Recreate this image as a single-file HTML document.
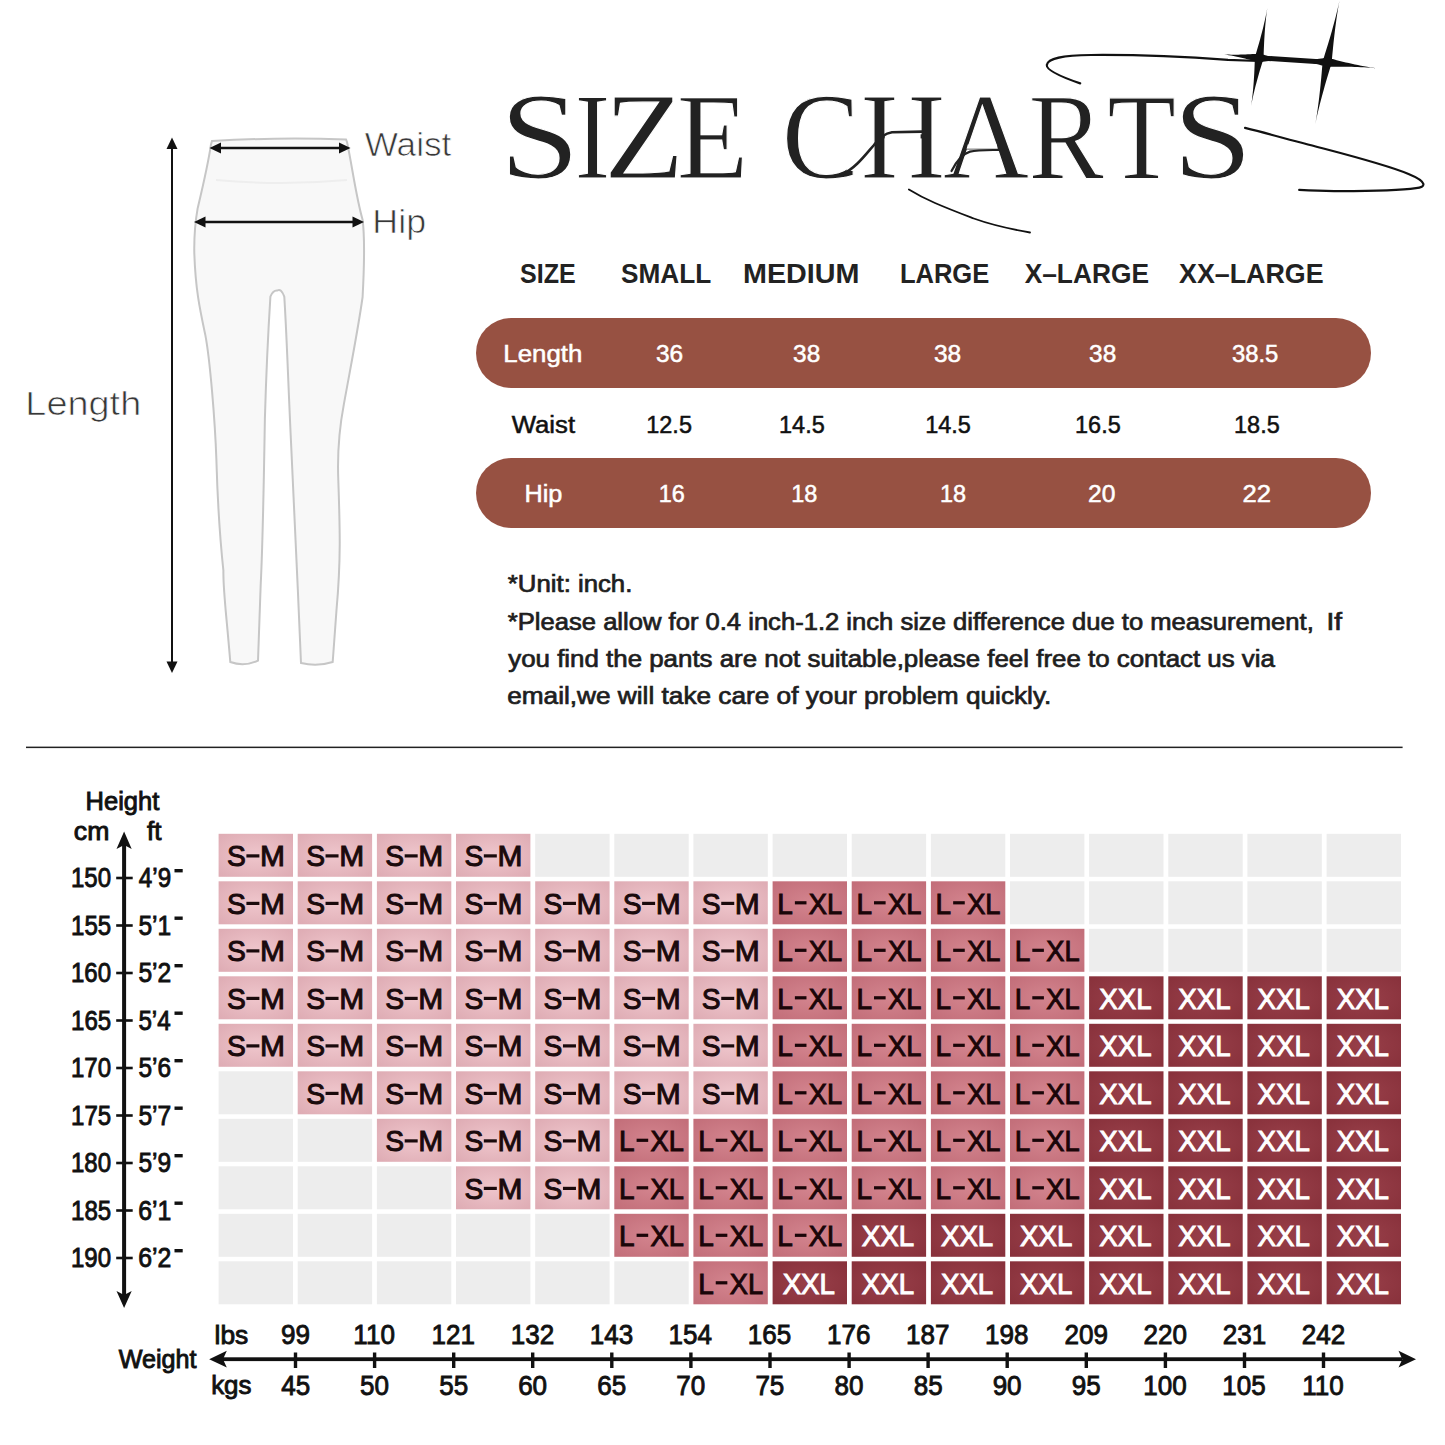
<!DOCTYPE html>
<html><head><meta charset="utf-8">
<style>
*{margin:0;padding:0}
html,body{width:1445px;height:1445px;overflow:hidden;background:#fff}
svg{position:absolute;left:0;top:0;display:block}
text{white-space:pre}
</style></head><body>
<svg width="1445" height="1445" viewBox="0 0 1445 1445">
<defs>
<radialGradient id="gs" cx="50%" cy="50%" r="65%"><stop offset="0" stop-color="#efc6cc"/><stop offset="1" stop-color="#dfadb5"/></radialGradient>
<radialGradient id="gl" cx="50%" cy="50%" r="65%"><stop offset="0" stop-color="#d3848e"/><stop offset="1" stop-color="#c36f7a"/></radialGradient>
<radialGradient id="gx" cx="50%" cy="50%" r="65%"><stop offset="0" stop-color="#983f49"/><stop offset="1" stop-color="#89323c"/></radialGradient>
</defs>
<path d="M212 141 Q280 137 346 139.5 L347 142 C352 165 356 197 362.6 219.7 C364.5 235 364.5 262 362.6 297 C358 330 350 370 343.8 404.6 C339 430 337.5 460 338.3 480 C340 529 341 560 336.5 610 L332.7 662 Q317 667 301 663 C298 590 295 529 291.2 446 C288 380 287 340 284.3 296.6 Q281 288 277.4 290.5 Q273 290 270.4 296.6 C268 335 266 380 264.9 418.4 C264 470 263 540 260.7 584.5 L258 660.7 Q244 667 230.3 662 C226 610 223 590 223.4 570.7 C218 520 217 480 216.4 460 C215 420 210 360 205.4 335.4 C200 310 195.5 290 194.3 252.9 C194 235 194.5 226 197.6 208.6 C202 190 208 165 211 144.4 Z" fill="#f8f8f8" stroke="#c6c6c6" stroke-width="2"/>
<path d="M216 180 Q280 186 347 180" fill="none" stroke="#eeeeee" stroke-width="2"/>
<line x1="218" y1="148" x2="342" y2="148" stroke="#111" stroke-width="2.5"/>
<path d="M209.5 148 L221 142.5 L221 153.5 Z" fill="#111"/>
<path d="M350.5 148 L339 142.5 L339 153.5 Z" fill="#111"/>
<line x1="202" y1="222" x2="356" y2="222" stroke="#111" stroke-width="2.5"/>
<path d="M194 222 L205.5 216.5 L205.5 227.5 Z" fill="#111"/>
<path d="M364 222 L352.5 216.5 L352.5 227.5 Z" fill="#111"/>
<line x1="172" y1="146" x2="172" y2="665" stroke="#111" stroke-width="2"/>
<path d="M172 137.5 L166.5 149 L177.5 149 Z" fill="#111"/>
<path d="M172 673 L166.5 661.5 L177.5 661.5 Z" fill="#111"/>
<text x="364.72" y="155.50" font-family="Liberation Sans" font-weight="normal" font-size="33" textLength="86.56" lengthAdjust="spacingAndGlyphs" fill="#383838" stroke="#fff" stroke-width="0.7">Waist</text>
<text x="372.35" y="232.90" font-family="Liberation Sans" font-weight="normal" font-size="33" textLength="53.70" lengthAdjust="spacingAndGlyphs" fill="#383838" stroke="#fff" stroke-width="0.7">Hip</text>
<text x="25.38" y="414.60" font-family="Liberation Sans" font-weight="normal" font-size="33" textLength="115.84" lengthAdjust="spacingAndGlyphs" fill="#383838" stroke="#fff" stroke-width="0.7">Length</text>
<text x="499.64" y="177.50" font-family="Liberation Serif" font-weight="normal" font-size="122" textLength="80.40" lengthAdjust="spacingAndGlyphs" fill="#222" stroke="#fff" stroke-width="1.1">S</text>
<text x="574.43" y="177.50" font-family="Liberation Serif" font-weight="normal" font-size="122" textLength="35.90" lengthAdjust="spacingAndGlyphs" fill="#222" stroke="#fff" stroke-width="1.1">I</text>
<text x="603.73" y="177.50" font-family="Liberation Serif" font-weight="normal" font-size="122" textLength="80.65" lengthAdjust="spacingAndGlyphs" fill="#222" stroke="#fff" stroke-width="1.1">Z</text>
<text x="676.78" y="177.50" font-family="Liberation Serif" font-weight="normal" font-size="122" textLength="71.58" lengthAdjust="spacingAndGlyphs" fill="#222" stroke="#fff" stroke-width="1.1">E</text>
<text x="781.81" y="177.50" font-family="Liberation Serif" font-weight="normal" font-size="122" textLength="78.17" lengthAdjust="spacingAndGlyphs" fill="#222" stroke="#fff" stroke-width="1.1">C</text>
<text x="860.78" y="177.50" font-family="Liberation Serif" font-weight="normal" font-size="122" textLength="84.49" lengthAdjust="spacingAndGlyphs" fill="#222" stroke="#fff" stroke-width="1.1">H</text>
<text x="943.01" y="177.50" font-family="Liberation Serif" font-weight="normal" font-size="122" textLength="86.05" lengthAdjust="spacingAndGlyphs" fill="#222" stroke="#fff" stroke-width="1.1">A</text>
<text x="1028.49" y="177.50" font-family="Liberation Serif" font-weight="normal" font-size="122" textLength="75.33" lengthAdjust="spacingAndGlyphs" fill="#222" stroke="#fff" stroke-width="1.1">R</text>
<text x="1107.33" y="177.50" font-family="Liberation Serif" font-weight="normal" font-size="122" textLength="68.75" lengthAdjust="spacingAndGlyphs" fill="#222" stroke="#fff" stroke-width="1.1">T</text>
<text x="1172.56" y="177.50" font-family="Liberation Serif" font-weight="normal" font-size="122" textLength="80.27" lengthAdjust="spacingAndGlyphs" fill="#222" stroke="#fff" stroke-width="1.1">S</text>
<rect x="884.8" y="133.3" width="35.8" height="6" fill="#fff"/>
<path d="M848.5 153 L856 153 L856 171 L846.5 171 Z" fill="#fff"/>
<path d="M967.8 144.5 L996.8 144.5 L997.8 148.8 L966.6 148.8 Z" fill="#fff"/>
<path d="M842 174.5 C856 168 866 154 874 145 C879 138 884 133.5 892 132.3 L922 131.6" fill="none" stroke="#222" stroke-width="2.6" stroke-linecap="round"/>
<path d="M951.5 171 C956 162 962 154 970 151.6 C978 149.6 990 150 999 150" fill="none" stroke="#222" stroke-width="2.2" stroke-linecap="round"/>
<path d="M1080.2 83.4 C1066 78.5 1046 71 1046.8 65 C1048 58 1062 55.5 1091 55 C1140 54.6 1190 57 1228 59.8 L1259 61" fill="none" stroke="#111" stroke-width="2.2" stroke-linecap="round"/>
<path d="M1245 127.9 C1270 134 1290 140 1304.4 143.5 C1340 153 1385 164 1408.5 174 C1428 182 1426 187.5 1416 188.1 C1400 190.5 1370 191.2 1334 191.1 C1320 191 1310 190.5 1299.2 189.9" fill="none" stroke="#111" stroke-width="2.2" stroke-linecap="round"/>
<path d="M908.9 189.4 C918 195 926 199 935 203 C950 209.5 962 214 973.8 218.5 C992 225 1010 229 1030 232.5" fill="none" stroke="#111" stroke-width="1.8" stroke-linecap="round"/>
<path d="M1259.2 57.9 L1327.1 62.3" stroke="#111" stroke-width="5"/>
<path d="M1263.54 58.61 L1263.62 55.42 L1263.72 52.25 L1263.83 49.07 L1263.97 45.90 L1264.12 42.73 L1264.28 39.56 L1264.47 36.39 L1264.68 33.23 L1264.91 30.08 L1265.17 26.92 L1265.44 23.77 L1265.75 20.63 L1266.08 17.49 L1266.44 14.35 L1266.85 11.22 L1267.30 8.10 L1267.30 8.10 L1266.74 11.20 L1266.13 14.30 L1265.48 17.39 L1264.80 20.47 L1264.09 23.55 L1263.36 26.63 L1262.60 29.70 L1261.82 32.77 L1261.01 35.83 L1260.19 38.89 L1259.35 41.95 L1258.48 45.00 L1257.60 48.06 L1256.71 51.10 L1255.79 54.15 L1254.86 57.19 ZM1254.86 57.17 L1254.78 60.24 L1254.68 63.31 L1254.57 66.37 L1254.44 69.44 L1254.29 72.50 L1254.12 75.55 L1253.93 78.61 L1253.72 81.66 L1253.49 84.70 L1253.23 87.75 L1252.96 90.79 L1252.65 93.82 L1252.32 96.85 L1251.96 99.87 L1251.55 102.89 L1251.10 105.90 L1251.10 105.90 L1251.66 102.91 L1252.27 99.93 L1252.92 96.95 L1253.60 93.98 L1254.31 91.01 L1255.04 88.05 L1255.80 85.10 L1256.58 82.14 L1257.38 79.19 L1258.21 76.25 L1259.05 73.30 L1259.91 70.36 L1260.79 67.43 L1261.69 64.49 L1262.61 61.56 L1263.54 58.63 ZM1259.63 53.52 L1257.25 53.72 L1254.87 53.90 L1252.50 54.07 L1250.12 54.21 L1247.75 54.34 L1245.38 54.45 L1243.01 54.54 L1240.64 54.61 L1238.28 54.65 L1235.92 54.68 L1233.55 54.68 L1231.20 54.65 L1228.84 54.59 L1226.49 54.51 L1224.14 54.38 L1221.80 54.20 L1221.80 54.20 L1224.13 54.48 L1226.46 54.82 L1228.78 55.19 L1231.10 55.60 L1233.42 56.04 L1235.73 56.50 L1238.05 56.99 L1240.36 57.49 L1242.66 58.03 L1244.97 58.58 L1247.27 59.15 L1249.58 59.74 L1251.88 60.35 L1254.18 60.97 L1256.47 61.62 L1258.77 62.28 ZM1258.90 62.29 L1260.86 61.99 L1262.81 61.71 L1264.76 61.44 L1266.71 61.20 L1268.66 60.97 L1270.61 60.76 L1272.56 60.57 L1274.50 60.40 L1276.45 60.25 L1278.39 60.13 L1280.33 60.03 L1282.27 59.95 L1284.20 59.91 L1286.14 59.90 L1288.07 59.92 L1290.00 60.00 L1290.00 60.00 L1288.08 59.82 L1286.16 59.58 L1284.25 59.30 L1282.33 59.00 L1280.42 58.66 L1278.51 58.30 L1276.60 57.91 L1274.70 57.50 L1272.79 57.07 L1270.89 56.62 L1268.99 56.15 L1267.09 55.65 L1265.19 55.14 L1263.29 54.62 L1261.39 54.07 L1259.50 53.51 Z" fill="#111"/><circle cx="1259.2" cy="57.9" r="5.2" fill="#111"/>
<path d="M1331.61 63.21 L1331.94 59.26 L1332.29 55.32 L1332.66 51.38 L1333.05 47.45 L1333.45 43.52 L1333.88 39.59 L1334.32 35.67 L1334.79 31.75 L1335.28 27.84 L1335.79 23.93 L1336.33 20.02 L1336.89 16.12 L1337.48 12.23 L1338.11 8.35 L1338.78 4.47 L1339.50 0.60 L1339.50 0.60 L1338.67 4.45 L1337.79 8.28 L1336.87 12.11 L1335.91 15.93 L1334.92 19.74 L1333.91 23.55 L1332.87 27.35 L1331.81 31.15 L1330.73 34.95 L1329.62 38.74 L1328.50 42.52 L1327.35 46.30 L1326.19 50.08 L1325.01 53.86 L1323.81 57.63 L1322.59 61.39 ZM1322.58 61.44 L1322.29 65.38 L1321.98 69.31 L1321.65 73.25 L1321.30 77.18 L1320.93 81.11 L1320.55 85.03 L1320.14 88.95 L1319.71 92.86 L1319.26 96.78 L1318.78 100.68 L1318.28 104.58 L1317.76 108.48 L1317.20 112.37 L1316.61 116.26 L1315.98 120.13 L1315.30 124.00 L1315.30 124.00 L1316.09 120.15 L1316.94 116.32 L1317.82 112.49 L1318.74 108.67 L1319.69 104.85 L1320.67 101.04 L1321.67 97.24 L1322.69 93.44 L1323.74 89.64 L1324.80 85.84 L1325.89 82.06 L1327.00 78.27 L1328.13 74.49 L1329.27 70.71 L1330.44 66.94 L1331.62 63.16 ZM1326.54 66.87 L1329.67 66.79 L1332.80 66.74 L1335.93 66.70 L1339.05 66.68 L1342.17 66.68 L1345.29 66.70 L1348.40 66.74 L1351.52 66.81 L1354.63 66.89 L1357.73 67.00 L1360.84 67.14 L1363.94 67.30 L1367.04 67.49 L1370.13 67.71 L1373.22 67.98 L1376.30 68.30 L1376.30 68.30 L1373.23 67.87 L1370.17 67.39 L1367.11 66.86 L1364.06 66.30 L1361.01 65.71 L1357.97 65.10 L1354.92 64.46 L1351.88 63.79 L1348.85 63.11 L1345.81 62.40 L1342.78 61.67 L1339.75 60.92 L1336.72 60.15 L1333.70 59.36 L1330.68 58.56 L1327.66 57.73 ZM1327.43 57.71 L1325.39 58.02 L1323.35 58.31 L1321.32 58.58 L1319.28 58.83 L1317.25 59.06 L1315.22 59.27 L1313.19 59.47 L1311.16 59.64 L1309.13 59.78 L1307.11 59.91 L1305.08 60.01 L1303.06 60.08 L1301.04 60.12 L1299.02 60.12 L1297.01 60.09 L1295.00 60.00 L1295.00 60.00 L1297.00 60.20 L1299.00 60.45 L1301.00 60.75 L1302.99 61.07 L1304.98 61.43 L1306.97 61.82 L1308.96 62.23 L1310.94 62.66 L1312.93 63.12 L1314.91 63.60 L1316.89 64.10 L1318.87 64.62 L1320.85 65.16 L1322.82 65.72 L1324.80 66.29 L1326.77 66.89 Z" fill="#111"/><circle cx="1327.1" cy="62.3" r="5.4" fill="#111"/>
<text x="520.05" y="283.20" font-family="Liberation Sans" font-weight="bold" font-size="28" textLength="55.66" lengthAdjust="spacingAndGlyphs" fill="#222" >SIZE</text>
<text x="621.01" y="283.20" font-family="Liberation Sans" font-weight="bold" font-size="28" textLength="90.21" lengthAdjust="spacingAndGlyphs" fill="#222" >SMALL</text>
<text x="743.06" y="283.20" font-family="Liberation Sans" font-weight="bold" font-size="28" textLength="116.41" lengthAdjust="spacingAndGlyphs" fill="#222" >MEDIUM</text>
<text x="899.88" y="283.20" font-family="Liberation Sans" font-weight="bold" font-size="28" textLength="89.35" lengthAdjust="spacingAndGlyphs" fill="#222" >LARGE</text>
<text x="1024.64" y="283.20" font-family="Liberation Sans" font-weight="bold" font-size="28" textLength="124.37" lengthAdjust="spacingAndGlyphs" fill="#222" >X–LARGE</text>
<text x="1179.03" y="283.20" font-family="Liberation Sans" font-weight="bold" font-size="28" textLength="144.55" lengthAdjust="spacingAndGlyphs" fill="#222" >XX–LARGE</text>
<rect x="476" y="318" width="895" height="70" rx="35" fill="#975142"/>
<rect x="476" y="458" width="895" height="70" rx="35" fill="#975142"/>
<text x="503.27" y="362.00" font-family="Liberation Sans" font-weight="normal" font-size="23" textLength="79.08" lengthAdjust="spacingAndGlyphs" fill="#fff" stroke="#fff" stroke-width="0.5">Length</text>
<text x="655.98" y="362.00" font-family="Liberation Sans" font-weight="normal" font-size="23" textLength="27.21" lengthAdjust="spacingAndGlyphs" fill="#fff" stroke="#fff" stroke-width="0.5">36</text>
<text x="793.09" y="362.00" font-family="Liberation Sans" font-weight="normal" font-size="23" textLength="27.11" lengthAdjust="spacingAndGlyphs" fill="#fff" stroke="#fff" stroke-width="0.5">38</text>
<text x="933.98" y="362.00" font-family="Liberation Sans" font-weight="normal" font-size="23" textLength="27.21" lengthAdjust="spacingAndGlyphs" fill="#fff" stroke="#fff" stroke-width="0.5">38</text>
<text x="1089.09" y="362.00" font-family="Liberation Sans" font-weight="normal" font-size="23" textLength="27.11" lengthAdjust="spacingAndGlyphs" fill="#fff" stroke="#fff" stroke-width="0.5">38</text>
<text x="1231.91" y="362.00" font-family="Liberation Sans" font-weight="normal" font-size="23" textLength="46.38" lengthAdjust="spacingAndGlyphs" fill="#fff" stroke="#fff" stroke-width="0.5">38.5</text>
<text x="511.67" y="432.50" font-family="Liberation Sans" font-weight="normal" font-size="23" textLength="63.43" lengthAdjust="spacingAndGlyphs" fill="#111" stroke="#111" stroke-width="0.5">Waist</text>
<text x="646.27" y="432.50" font-family="Liberation Sans" font-weight="normal" font-size="23" textLength="45.66" lengthAdjust="spacingAndGlyphs" fill="#111" stroke="#111" stroke-width="0.5">12.5</text>
<text x="779.07" y="432.50" font-family="Liberation Sans" font-weight="normal" font-size="23" textLength="45.66" lengthAdjust="spacingAndGlyphs" fill="#111" stroke="#111" stroke-width="0.5">14.5</text>
<text x="925.22" y="432.50" font-family="Liberation Sans" font-weight="normal" font-size="23" textLength="45.66" lengthAdjust="spacingAndGlyphs" fill="#111" stroke="#111" stroke-width="0.5">14.5</text>
<text x="1075.07" y="432.50" font-family="Liberation Sans" font-weight="normal" font-size="23" textLength="45.66" lengthAdjust="spacingAndGlyphs" fill="#111" stroke="#111" stroke-width="0.5">16.5</text>
<text x="1234.07" y="432.50" font-family="Liberation Sans" font-weight="normal" font-size="23" textLength="45.66" lengthAdjust="spacingAndGlyphs" fill="#111" stroke="#111" stroke-width="0.5">18.5</text>
<text x="524.52" y="502.10" font-family="Liberation Sans" font-weight="normal" font-size="23" textLength="37.91" lengthAdjust="spacingAndGlyphs" fill="#fff" stroke="#fff" stroke-width="0.5">Hip</text>
<text x="658.70" y="502.10" font-family="Liberation Sans" font-weight="normal" font-size="23" textLength="26.10" lengthAdjust="spacingAndGlyphs" fill="#fff" stroke="#fff" stroke-width="0.5">16</text>
<text x="791.25" y="502.10" font-family="Liberation Sans" font-weight="normal" font-size="23" textLength="26.10" lengthAdjust="spacingAndGlyphs" fill="#fff" stroke="#fff" stroke-width="0.5">18</text>
<text x="939.90" y="502.10" font-family="Liberation Sans" font-weight="normal" font-size="23" textLength="26.10" lengthAdjust="spacingAndGlyphs" fill="#fff" stroke="#fff" stroke-width="0.5">18</text>
<text x="1088.07" y="502.10" font-family="Liberation Sans" font-weight="normal" font-size="23" textLength="27.41" lengthAdjust="spacingAndGlyphs" fill="#fff" stroke="#fff" stroke-width="0.5">20</text>
<text x="1242.52" y="502.10" font-family="Liberation Sans" font-weight="normal" font-size="23" textLength="28.52" lengthAdjust="spacingAndGlyphs" fill="#fff" stroke="#fff" stroke-width="0.5">22</text>
<text x="507.85" y="591.80" font-family="Liberation Sans" font-weight="normal" font-size="23" textLength="124.48" lengthAdjust="spacingAndGlyphs" fill="#1e1e1e" stroke="#1e1e1e" stroke-width="0.7">*Unit: inch.</text>
<text x="507.85" y="629.80" font-family="Liberation Sans" font-weight="normal" font-size="23" textLength="805.95" lengthAdjust="spacingAndGlyphs" fill="#1e1e1e" stroke="#1e1e1e" stroke-width="0.7">*Please allow for 0.4 inch-1.2 inch size difference due to measurement,</text>
<text x="1326.41" y="629.80" font-family="Liberation Sans" font-weight="normal" font-size="23" textLength="15.54" lengthAdjust="spacingAndGlyphs" fill="#1e1e1e" stroke="#1e1e1e" stroke-width="0.7">If</text>
<text x="508.24" y="666.80" font-family="Liberation Sans" font-weight="normal" font-size="23" textLength="766.73" lengthAdjust="spacingAndGlyphs" fill="#1e1e1e" stroke="#1e1e1e" stroke-width="0.7">you find the pants are not suitable,please feel free to contact us via</text>
<text x="507.19" y="703.60" font-family="Liberation Sans" font-weight="normal" font-size="23" textLength="544.18" lengthAdjust="spacingAndGlyphs" fill="#1e1e1e" stroke="#1e1e1e" stroke-width="0.7">email,we will take care of your problem quickly.</text>
<rect x="26" y="746.6" width="1376.6" height="1.5" fill="#222"/>
<rect x="218.6" y="833.8" width="74.4" height="43" fill="url(#gs)"/>
<text x="227.03" y="866.00" font-family="Liberation Sans" font-weight="normal" font-size="29.5" textLength="18.83" lengthAdjust="spacingAndGlyphs" fill="#1a0a0c" stroke="#1a0a0c" stroke-width="1.0">S</text>
<rect x="246.40" y="854.30" width="13" height="3.2" fill="#1a0a0c"/>
<text x="260.03" y="866.00" font-family="Liberation Sans" font-weight="normal" font-size="29.5" textLength="24.96" lengthAdjust="spacingAndGlyphs" fill="#1a0a0c" stroke="#1a0a0c" stroke-width="1.0">M</text>
<rect x="297.7" y="833.8" width="74.4" height="43" fill="url(#gs)"/>
<text x="306.17" y="866.00" font-family="Liberation Sans" font-weight="normal" font-size="29.5" textLength="18.83" lengthAdjust="spacingAndGlyphs" fill="#1a0a0c" stroke="#1a0a0c" stroke-width="1.0">S</text>
<rect x="325.54" y="854.30" width="13" height="3.2" fill="#1a0a0c"/>
<text x="339.17" y="866.00" font-family="Liberation Sans" font-weight="normal" font-size="29.5" textLength="24.96" lengthAdjust="spacingAndGlyphs" fill="#1a0a0c" stroke="#1a0a0c" stroke-width="1.0">M</text>
<rect x="376.9" y="833.8" width="74.4" height="43" fill="url(#gs)"/>
<text x="385.31" y="866.00" font-family="Liberation Sans" font-weight="normal" font-size="29.5" textLength="18.83" lengthAdjust="spacingAndGlyphs" fill="#1a0a0c" stroke="#1a0a0c" stroke-width="1.0">S</text>
<rect x="404.68" y="854.30" width="13" height="3.2" fill="#1a0a0c"/>
<text x="418.31" y="866.00" font-family="Liberation Sans" font-weight="normal" font-size="29.5" textLength="24.96" lengthAdjust="spacingAndGlyphs" fill="#1a0a0c" stroke="#1a0a0c" stroke-width="1.0">M</text>
<rect x="456.0" y="833.8" width="74.4" height="43" fill="url(#gs)"/>
<text x="464.45" y="866.00" font-family="Liberation Sans" font-weight="normal" font-size="29.5" textLength="18.83" lengthAdjust="spacingAndGlyphs" fill="#1a0a0c" stroke="#1a0a0c" stroke-width="1.0">S</text>
<rect x="483.82" y="854.30" width="13" height="3.2" fill="#1a0a0c"/>
<text x="497.45" y="866.00" font-family="Liberation Sans" font-weight="normal" font-size="29.5" textLength="24.96" lengthAdjust="spacingAndGlyphs" fill="#1a0a0c" stroke="#1a0a0c" stroke-width="1.0">M</text>
<rect x="535.2" y="833.8" width="74.4" height="43" fill="#ededed"/>
<rect x="614.3" y="833.8" width="74.4" height="43" fill="#ededed"/>
<rect x="693.4" y="833.8" width="74.4" height="43" fill="#ededed"/>
<rect x="772.6" y="833.8" width="74.4" height="43" fill="#ededed"/>
<rect x="851.7" y="833.8" width="74.4" height="43" fill="#ededed"/>
<rect x="930.9" y="833.8" width="74.4" height="43" fill="#ededed"/>
<rect x="1010.0" y="833.8" width="74.4" height="43" fill="#ededed"/>
<rect x="1089.1" y="833.8" width="74.4" height="43" fill="#ededed"/>
<rect x="1168.3" y="833.8" width="74.4" height="43" fill="#ededed"/>
<rect x="1247.4" y="833.8" width="74.4" height="43" fill="#ededed"/>
<rect x="1326.6" y="833.8" width="74.4" height="43" fill="#ededed"/>
<rect x="218.6" y="881.3" width="74.4" height="43" fill="url(#gs)"/>
<text x="227.03" y="913.50" font-family="Liberation Sans" font-weight="normal" font-size="29.5" textLength="18.83" lengthAdjust="spacingAndGlyphs" fill="#1a0a0c" stroke="#1a0a0c" stroke-width="1.0">S</text>
<rect x="246.40" y="901.80" width="13" height="3.2" fill="#1a0a0c"/>
<text x="260.03" y="913.50" font-family="Liberation Sans" font-weight="normal" font-size="29.5" textLength="24.96" lengthAdjust="spacingAndGlyphs" fill="#1a0a0c" stroke="#1a0a0c" stroke-width="1.0">M</text>
<rect x="297.7" y="881.3" width="74.4" height="43" fill="url(#gs)"/>
<text x="306.17" y="913.50" font-family="Liberation Sans" font-weight="normal" font-size="29.5" textLength="18.83" lengthAdjust="spacingAndGlyphs" fill="#1a0a0c" stroke="#1a0a0c" stroke-width="1.0">S</text>
<rect x="325.54" y="901.80" width="13" height="3.2" fill="#1a0a0c"/>
<text x="339.17" y="913.50" font-family="Liberation Sans" font-weight="normal" font-size="29.5" textLength="24.96" lengthAdjust="spacingAndGlyphs" fill="#1a0a0c" stroke="#1a0a0c" stroke-width="1.0">M</text>
<rect x="376.9" y="881.3" width="74.4" height="43" fill="url(#gs)"/>
<text x="385.31" y="913.50" font-family="Liberation Sans" font-weight="normal" font-size="29.5" textLength="18.83" lengthAdjust="spacingAndGlyphs" fill="#1a0a0c" stroke="#1a0a0c" stroke-width="1.0">S</text>
<rect x="404.68" y="901.80" width="13" height="3.2" fill="#1a0a0c"/>
<text x="418.31" y="913.50" font-family="Liberation Sans" font-weight="normal" font-size="29.5" textLength="24.96" lengthAdjust="spacingAndGlyphs" fill="#1a0a0c" stroke="#1a0a0c" stroke-width="1.0">M</text>
<rect x="456.0" y="881.3" width="74.4" height="43" fill="url(#gs)"/>
<text x="464.45" y="913.50" font-family="Liberation Sans" font-weight="normal" font-size="29.5" textLength="18.83" lengthAdjust="spacingAndGlyphs" fill="#1a0a0c" stroke="#1a0a0c" stroke-width="1.0">S</text>
<rect x="483.82" y="901.80" width="13" height="3.2" fill="#1a0a0c"/>
<text x="497.45" y="913.50" font-family="Liberation Sans" font-weight="normal" font-size="29.5" textLength="24.96" lengthAdjust="spacingAndGlyphs" fill="#1a0a0c" stroke="#1a0a0c" stroke-width="1.0">M</text>
<rect x="535.2" y="881.3" width="74.4" height="43" fill="url(#gs)"/>
<text x="543.59" y="913.50" font-family="Liberation Sans" font-weight="normal" font-size="29.5" textLength="18.83" lengthAdjust="spacingAndGlyphs" fill="#1a0a0c" stroke="#1a0a0c" stroke-width="1.0">S</text>
<rect x="562.96" y="901.80" width="13" height="3.2" fill="#1a0a0c"/>
<text x="576.59" y="913.50" font-family="Liberation Sans" font-weight="normal" font-size="29.5" textLength="24.96" lengthAdjust="spacingAndGlyphs" fill="#1a0a0c" stroke="#1a0a0c" stroke-width="1.0">M</text>
<rect x="614.3" y="881.3" width="74.4" height="43" fill="url(#gs)"/>
<text x="622.73" y="913.50" font-family="Liberation Sans" font-weight="normal" font-size="29.5" textLength="18.83" lengthAdjust="spacingAndGlyphs" fill="#1a0a0c" stroke="#1a0a0c" stroke-width="1.0">S</text>
<rect x="642.10" y="901.80" width="13" height="3.2" fill="#1a0a0c"/>
<text x="655.73" y="913.50" font-family="Liberation Sans" font-weight="normal" font-size="29.5" textLength="24.96" lengthAdjust="spacingAndGlyphs" fill="#1a0a0c" stroke="#1a0a0c" stroke-width="1.0">M</text>
<rect x="693.4" y="881.3" width="74.4" height="43" fill="url(#gs)"/>
<text x="701.87" y="913.50" font-family="Liberation Sans" font-weight="normal" font-size="29.5" textLength="18.83" lengthAdjust="spacingAndGlyphs" fill="#1a0a0c" stroke="#1a0a0c" stroke-width="1.0">S</text>
<rect x="721.24" y="901.80" width="13" height="3.2" fill="#1a0a0c"/>
<text x="734.87" y="913.50" font-family="Liberation Sans" font-weight="normal" font-size="29.5" textLength="24.96" lengthAdjust="spacingAndGlyphs" fill="#1a0a0c" stroke="#1a0a0c" stroke-width="1.0">M</text>
<rect x="772.6" y="881.3" width="74.4" height="43" fill="url(#gl)"/>
<text x="777.27" y="913.50" font-family="Liberation Sans" font-weight="normal" font-size="29.5" textLength="15.55" lengthAdjust="spacingAndGlyphs" fill="#1a0508" stroke="#1a0508" stroke-width="1.0">L</text>
<rect x="794.88" y="901.20" width="11.6" height="3.2" fill="#1a0508"/>
<text x="808.87" y="913.50" font-family="Liberation Sans" font-weight="normal" font-size="29.5" textLength="33.32" lengthAdjust="spacingAndGlyphs" fill="#1a0508" stroke="#1a0508" stroke-width="1.0">XL</text>
<rect x="851.7" y="881.3" width="74.4" height="43" fill="url(#gl)"/>
<text x="856.41" y="913.50" font-family="Liberation Sans" font-weight="normal" font-size="29.5" textLength="15.55" lengthAdjust="spacingAndGlyphs" fill="#1a0508" stroke="#1a0508" stroke-width="1.0">L</text>
<rect x="874.02" y="901.20" width="11.6" height="3.2" fill="#1a0508"/>
<text x="888.01" y="913.50" font-family="Liberation Sans" font-weight="normal" font-size="29.5" textLength="33.32" lengthAdjust="spacingAndGlyphs" fill="#1a0508" stroke="#1a0508" stroke-width="1.0">XL</text>
<rect x="930.9" y="881.3" width="74.4" height="43" fill="url(#gl)"/>
<text x="935.55" y="913.50" font-family="Liberation Sans" font-weight="normal" font-size="29.5" textLength="15.55" lengthAdjust="spacingAndGlyphs" fill="#1a0508" stroke="#1a0508" stroke-width="1.0">L</text>
<rect x="953.16" y="901.20" width="11.6" height="3.2" fill="#1a0508"/>
<text x="967.15" y="913.50" font-family="Liberation Sans" font-weight="normal" font-size="29.5" textLength="33.32" lengthAdjust="spacingAndGlyphs" fill="#1a0508" stroke="#1a0508" stroke-width="1.0">XL</text>
<rect x="1010.0" y="881.3" width="74.4" height="43" fill="#ededed"/>
<rect x="1089.1" y="881.3" width="74.4" height="43" fill="#ededed"/>
<rect x="1168.3" y="881.3" width="74.4" height="43" fill="#ededed"/>
<rect x="1247.4" y="881.3" width="74.4" height="43" fill="#ededed"/>
<rect x="1326.6" y="881.3" width="74.4" height="43" fill="#ededed"/>
<rect x="218.6" y="928.8" width="74.4" height="43" fill="url(#gs)"/>
<text x="227.03" y="961.00" font-family="Liberation Sans" font-weight="normal" font-size="29.5" textLength="18.83" lengthAdjust="spacingAndGlyphs" fill="#1a0a0c" stroke="#1a0a0c" stroke-width="1.0">S</text>
<rect x="246.40" y="949.30" width="13" height="3.2" fill="#1a0a0c"/>
<text x="260.03" y="961.00" font-family="Liberation Sans" font-weight="normal" font-size="29.5" textLength="24.96" lengthAdjust="spacingAndGlyphs" fill="#1a0a0c" stroke="#1a0a0c" stroke-width="1.0">M</text>
<rect x="297.7" y="928.8" width="74.4" height="43" fill="url(#gs)"/>
<text x="306.17" y="961.00" font-family="Liberation Sans" font-weight="normal" font-size="29.5" textLength="18.83" lengthAdjust="spacingAndGlyphs" fill="#1a0a0c" stroke="#1a0a0c" stroke-width="1.0">S</text>
<rect x="325.54" y="949.30" width="13" height="3.2" fill="#1a0a0c"/>
<text x="339.17" y="961.00" font-family="Liberation Sans" font-weight="normal" font-size="29.5" textLength="24.96" lengthAdjust="spacingAndGlyphs" fill="#1a0a0c" stroke="#1a0a0c" stroke-width="1.0">M</text>
<rect x="376.9" y="928.8" width="74.4" height="43" fill="url(#gs)"/>
<text x="385.31" y="961.00" font-family="Liberation Sans" font-weight="normal" font-size="29.5" textLength="18.83" lengthAdjust="spacingAndGlyphs" fill="#1a0a0c" stroke="#1a0a0c" stroke-width="1.0">S</text>
<rect x="404.68" y="949.30" width="13" height="3.2" fill="#1a0a0c"/>
<text x="418.31" y="961.00" font-family="Liberation Sans" font-weight="normal" font-size="29.5" textLength="24.96" lengthAdjust="spacingAndGlyphs" fill="#1a0a0c" stroke="#1a0a0c" stroke-width="1.0">M</text>
<rect x="456.0" y="928.8" width="74.4" height="43" fill="url(#gs)"/>
<text x="464.45" y="961.00" font-family="Liberation Sans" font-weight="normal" font-size="29.5" textLength="18.83" lengthAdjust="spacingAndGlyphs" fill="#1a0a0c" stroke="#1a0a0c" stroke-width="1.0">S</text>
<rect x="483.82" y="949.30" width="13" height="3.2" fill="#1a0a0c"/>
<text x="497.45" y="961.00" font-family="Liberation Sans" font-weight="normal" font-size="29.5" textLength="24.96" lengthAdjust="spacingAndGlyphs" fill="#1a0a0c" stroke="#1a0a0c" stroke-width="1.0">M</text>
<rect x="535.2" y="928.8" width="74.4" height="43" fill="url(#gs)"/>
<text x="543.59" y="961.00" font-family="Liberation Sans" font-weight="normal" font-size="29.5" textLength="18.83" lengthAdjust="spacingAndGlyphs" fill="#1a0a0c" stroke="#1a0a0c" stroke-width="1.0">S</text>
<rect x="562.96" y="949.30" width="13" height="3.2" fill="#1a0a0c"/>
<text x="576.59" y="961.00" font-family="Liberation Sans" font-weight="normal" font-size="29.5" textLength="24.96" lengthAdjust="spacingAndGlyphs" fill="#1a0a0c" stroke="#1a0a0c" stroke-width="1.0">M</text>
<rect x="614.3" y="928.8" width="74.4" height="43" fill="url(#gs)"/>
<text x="622.73" y="961.00" font-family="Liberation Sans" font-weight="normal" font-size="29.5" textLength="18.83" lengthAdjust="spacingAndGlyphs" fill="#1a0a0c" stroke="#1a0a0c" stroke-width="1.0">S</text>
<rect x="642.10" y="949.30" width="13" height="3.2" fill="#1a0a0c"/>
<text x="655.73" y="961.00" font-family="Liberation Sans" font-weight="normal" font-size="29.5" textLength="24.96" lengthAdjust="spacingAndGlyphs" fill="#1a0a0c" stroke="#1a0a0c" stroke-width="1.0">M</text>
<rect x="693.4" y="928.8" width="74.4" height="43" fill="url(#gs)"/>
<text x="701.87" y="961.00" font-family="Liberation Sans" font-weight="normal" font-size="29.5" textLength="18.83" lengthAdjust="spacingAndGlyphs" fill="#1a0a0c" stroke="#1a0a0c" stroke-width="1.0">S</text>
<rect x="721.24" y="949.30" width="13" height="3.2" fill="#1a0a0c"/>
<text x="734.87" y="961.00" font-family="Liberation Sans" font-weight="normal" font-size="29.5" textLength="24.96" lengthAdjust="spacingAndGlyphs" fill="#1a0a0c" stroke="#1a0a0c" stroke-width="1.0">M</text>
<rect x="772.6" y="928.8" width="74.4" height="43" fill="url(#gl)"/>
<text x="777.27" y="961.00" font-family="Liberation Sans" font-weight="normal" font-size="29.5" textLength="15.55" lengthAdjust="spacingAndGlyphs" fill="#1a0508" stroke="#1a0508" stroke-width="1.0">L</text>
<rect x="794.88" y="948.70" width="11.6" height="3.2" fill="#1a0508"/>
<text x="808.87" y="961.00" font-family="Liberation Sans" font-weight="normal" font-size="29.5" textLength="33.32" lengthAdjust="spacingAndGlyphs" fill="#1a0508" stroke="#1a0508" stroke-width="1.0">XL</text>
<rect x="851.7" y="928.8" width="74.4" height="43" fill="url(#gl)"/>
<text x="856.41" y="961.00" font-family="Liberation Sans" font-weight="normal" font-size="29.5" textLength="15.55" lengthAdjust="spacingAndGlyphs" fill="#1a0508" stroke="#1a0508" stroke-width="1.0">L</text>
<rect x="874.02" y="948.70" width="11.6" height="3.2" fill="#1a0508"/>
<text x="888.01" y="961.00" font-family="Liberation Sans" font-weight="normal" font-size="29.5" textLength="33.32" lengthAdjust="spacingAndGlyphs" fill="#1a0508" stroke="#1a0508" stroke-width="1.0">XL</text>
<rect x="930.9" y="928.8" width="74.4" height="43" fill="url(#gl)"/>
<text x="935.55" y="961.00" font-family="Liberation Sans" font-weight="normal" font-size="29.5" textLength="15.55" lengthAdjust="spacingAndGlyphs" fill="#1a0508" stroke="#1a0508" stroke-width="1.0">L</text>
<rect x="953.16" y="948.70" width="11.6" height="3.2" fill="#1a0508"/>
<text x="967.15" y="961.00" font-family="Liberation Sans" font-weight="normal" font-size="29.5" textLength="33.32" lengthAdjust="spacingAndGlyphs" fill="#1a0508" stroke="#1a0508" stroke-width="1.0">XL</text>
<rect x="1010.0" y="928.8" width="74.4" height="43" fill="url(#gl)"/>
<text x="1014.69" y="961.00" font-family="Liberation Sans" font-weight="normal" font-size="29.5" textLength="15.55" lengthAdjust="spacingAndGlyphs" fill="#1a0508" stroke="#1a0508" stroke-width="1.0">L</text>
<rect x="1032.30" y="948.70" width="11.6" height="3.2" fill="#1a0508"/>
<text x="1046.29" y="961.00" font-family="Liberation Sans" font-weight="normal" font-size="29.5" textLength="33.32" lengthAdjust="spacingAndGlyphs" fill="#1a0508" stroke="#1a0508" stroke-width="1.0">XL</text>
<rect x="1089.1" y="928.8" width="74.4" height="43" fill="#ededed"/>
<rect x="1168.3" y="928.8" width="74.4" height="43" fill="#ededed"/>
<rect x="1247.4" y="928.8" width="74.4" height="43" fill="#ededed"/>
<rect x="1326.6" y="928.8" width="74.4" height="43" fill="#ededed"/>
<rect x="218.6" y="976.3" width="74.4" height="43" fill="url(#gs)"/>
<text x="227.03" y="1008.50" font-family="Liberation Sans" font-weight="normal" font-size="29.5" textLength="18.83" lengthAdjust="spacingAndGlyphs" fill="#1a0a0c" stroke="#1a0a0c" stroke-width="1.0">S</text>
<rect x="246.40" y="996.80" width="13" height="3.2" fill="#1a0a0c"/>
<text x="260.03" y="1008.50" font-family="Liberation Sans" font-weight="normal" font-size="29.5" textLength="24.96" lengthAdjust="spacingAndGlyphs" fill="#1a0a0c" stroke="#1a0a0c" stroke-width="1.0">M</text>
<rect x="297.7" y="976.3" width="74.4" height="43" fill="url(#gs)"/>
<text x="306.17" y="1008.50" font-family="Liberation Sans" font-weight="normal" font-size="29.5" textLength="18.83" lengthAdjust="spacingAndGlyphs" fill="#1a0a0c" stroke="#1a0a0c" stroke-width="1.0">S</text>
<rect x="325.54" y="996.80" width="13" height="3.2" fill="#1a0a0c"/>
<text x="339.17" y="1008.50" font-family="Liberation Sans" font-weight="normal" font-size="29.5" textLength="24.96" lengthAdjust="spacingAndGlyphs" fill="#1a0a0c" stroke="#1a0a0c" stroke-width="1.0">M</text>
<rect x="376.9" y="976.3" width="74.4" height="43" fill="url(#gs)"/>
<text x="385.31" y="1008.50" font-family="Liberation Sans" font-weight="normal" font-size="29.5" textLength="18.83" lengthAdjust="spacingAndGlyphs" fill="#1a0a0c" stroke="#1a0a0c" stroke-width="1.0">S</text>
<rect x="404.68" y="996.80" width="13" height="3.2" fill="#1a0a0c"/>
<text x="418.31" y="1008.50" font-family="Liberation Sans" font-weight="normal" font-size="29.5" textLength="24.96" lengthAdjust="spacingAndGlyphs" fill="#1a0a0c" stroke="#1a0a0c" stroke-width="1.0">M</text>
<rect x="456.0" y="976.3" width="74.4" height="43" fill="url(#gs)"/>
<text x="464.45" y="1008.50" font-family="Liberation Sans" font-weight="normal" font-size="29.5" textLength="18.83" lengthAdjust="spacingAndGlyphs" fill="#1a0a0c" stroke="#1a0a0c" stroke-width="1.0">S</text>
<rect x="483.82" y="996.80" width="13" height="3.2" fill="#1a0a0c"/>
<text x="497.45" y="1008.50" font-family="Liberation Sans" font-weight="normal" font-size="29.5" textLength="24.96" lengthAdjust="spacingAndGlyphs" fill="#1a0a0c" stroke="#1a0a0c" stroke-width="1.0">M</text>
<rect x="535.2" y="976.3" width="74.4" height="43" fill="url(#gs)"/>
<text x="543.59" y="1008.50" font-family="Liberation Sans" font-weight="normal" font-size="29.5" textLength="18.83" lengthAdjust="spacingAndGlyphs" fill="#1a0a0c" stroke="#1a0a0c" stroke-width="1.0">S</text>
<rect x="562.96" y="996.80" width="13" height="3.2" fill="#1a0a0c"/>
<text x="576.59" y="1008.50" font-family="Liberation Sans" font-weight="normal" font-size="29.5" textLength="24.96" lengthAdjust="spacingAndGlyphs" fill="#1a0a0c" stroke="#1a0a0c" stroke-width="1.0">M</text>
<rect x="614.3" y="976.3" width="74.4" height="43" fill="url(#gs)"/>
<text x="622.73" y="1008.50" font-family="Liberation Sans" font-weight="normal" font-size="29.5" textLength="18.83" lengthAdjust="spacingAndGlyphs" fill="#1a0a0c" stroke="#1a0a0c" stroke-width="1.0">S</text>
<rect x="642.10" y="996.80" width="13" height="3.2" fill="#1a0a0c"/>
<text x="655.73" y="1008.50" font-family="Liberation Sans" font-weight="normal" font-size="29.5" textLength="24.96" lengthAdjust="spacingAndGlyphs" fill="#1a0a0c" stroke="#1a0a0c" stroke-width="1.0">M</text>
<rect x="693.4" y="976.3" width="74.4" height="43" fill="url(#gs)"/>
<text x="701.87" y="1008.50" font-family="Liberation Sans" font-weight="normal" font-size="29.5" textLength="18.83" lengthAdjust="spacingAndGlyphs" fill="#1a0a0c" stroke="#1a0a0c" stroke-width="1.0">S</text>
<rect x="721.24" y="996.80" width="13" height="3.2" fill="#1a0a0c"/>
<text x="734.87" y="1008.50" font-family="Liberation Sans" font-weight="normal" font-size="29.5" textLength="24.96" lengthAdjust="spacingAndGlyphs" fill="#1a0a0c" stroke="#1a0a0c" stroke-width="1.0">M</text>
<rect x="772.6" y="976.3" width="74.4" height="43" fill="url(#gl)"/>
<text x="777.27" y="1008.50" font-family="Liberation Sans" font-weight="normal" font-size="29.5" textLength="15.55" lengthAdjust="spacingAndGlyphs" fill="#1a0508" stroke="#1a0508" stroke-width="1.0">L</text>
<rect x="794.88" y="996.20" width="11.6" height="3.2" fill="#1a0508"/>
<text x="808.87" y="1008.50" font-family="Liberation Sans" font-weight="normal" font-size="29.5" textLength="33.32" lengthAdjust="spacingAndGlyphs" fill="#1a0508" stroke="#1a0508" stroke-width="1.0">XL</text>
<rect x="851.7" y="976.3" width="74.4" height="43" fill="url(#gl)"/>
<text x="856.41" y="1008.50" font-family="Liberation Sans" font-weight="normal" font-size="29.5" textLength="15.55" lengthAdjust="spacingAndGlyphs" fill="#1a0508" stroke="#1a0508" stroke-width="1.0">L</text>
<rect x="874.02" y="996.20" width="11.6" height="3.2" fill="#1a0508"/>
<text x="888.01" y="1008.50" font-family="Liberation Sans" font-weight="normal" font-size="29.5" textLength="33.32" lengthAdjust="spacingAndGlyphs" fill="#1a0508" stroke="#1a0508" stroke-width="1.0">XL</text>
<rect x="930.9" y="976.3" width="74.4" height="43" fill="url(#gl)"/>
<text x="935.55" y="1008.50" font-family="Liberation Sans" font-weight="normal" font-size="29.5" textLength="15.55" lengthAdjust="spacingAndGlyphs" fill="#1a0508" stroke="#1a0508" stroke-width="1.0">L</text>
<rect x="953.16" y="996.20" width="11.6" height="3.2" fill="#1a0508"/>
<text x="967.15" y="1008.50" font-family="Liberation Sans" font-weight="normal" font-size="29.5" textLength="33.32" lengthAdjust="spacingAndGlyphs" fill="#1a0508" stroke="#1a0508" stroke-width="1.0">XL</text>
<rect x="1010.0" y="976.3" width="74.4" height="43" fill="url(#gl)"/>
<text x="1014.69" y="1008.50" font-family="Liberation Sans" font-weight="normal" font-size="29.5" textLength="15.55" lengthAdjust="spacingAndGlyphs" fill="#1a0508" stroke="#1a0508" stroke-width="1.0">L</text>
<rect x="1032.30" y="996.20" width="11.6" height="3.2" fill="#1a0508"/>
<text x="1046.29" y="1008.50" font-family="Liberation Sans" font-weight="normal" font-size="29.5" textLength="33.32" lengthAdjust="spacingAndGlyphs" fill="#1a0508" stroke="#1a0508" stroke-width="1.0">XL</text>
<rect x="1089.1" y="976.3" width="74.4" height="43" fill="url(#gx)"/>
<text x="1099.22" y="1008.50" font-family="Liberation Sans" font-weight="normal" font-size="29.5" textLength="52.33" lengthAdjust="spacingAndGlyphs" fill="#fff" stroke="#fff" stroke-width="1.0">XXL</text>
<rect x="1168.3" y="976.3" width="74.4" height="43" fill="url(#gx)"/>
<text x="1178.36" y="1008.50" font-family="Liberation Sans" font-weight="normal" font-size="29.5" textLength="52.33" lengthAdjust="spacingAndGlyphs" fill="#fff" stroke="#fff" stroke-width="1.0">XXL</text>
<rect x="1247.4" y="976.3" width="74.4" height="43" fill="url(#gx)"/>
<text x="1257.50" y="1008.50" font-family="Liberation Sans" font-weight="normal" font-size="29.5" textLength="52.33" lengthAdjust="spacingAndGlyphs" fill="#fff" stroke="#fff" stroke-width="1.0">XXL</text>
<rect x="1326.6" y="976.3" width="74.4" height="43" fill="url(#gx)"/>
<text x="1336.64" y="1008.50" font-family="Liberation Sans" font-weight="normal" font-size="29.5" textLength="52.33" lengthAdjust="spacingAndGlyphs" fill="#fff" stroke="#fff" stroke-width="1.0">XXL</text>
<rect x="218.6" y="1023.8" width="74.4" height="43" fill="url(#gs)"/>
<text x="227.03" y="1056.00" font-family="Liberation Sans" font-weight="normal" font-size="29.5" textLength="18.83" lengthAdjust="spacingAndGlyphs" fill="#1a0a0c" stroke="#1a0a0c" stroke-width="1.0">S</text>
<rect x="246.40" y="1044.30" width="13" height="3.2" fill="#1a0a0c"/>
<text x="260.03" y="1056.00" font-family="Liberation Sans" font-weight="normal" font-size="29.5" textLength="24.96" lengthAdjust="spacingAndGlyphs" fill="#1a0a0c" stroke="#1a0a0c" stroke-width="1.0">M</text>
<rect x="297.7" y="1023.8" width="74.4" height="43" fill="url(#gs)"/>
<text x="306.17" y="1056.00" font-family="Liberation Sans" font-weight="normal" font-size="29.5" textLength="18.83" lengthAdjust="spacingAndGlyphs" fill="#1a0a0c" stroke="#1a0a0c" stroke-width="1.0">S</text>
<rect x="325.54" y="1044.30" width="13" height="3.2" fill="#1a0a0c"/>
<text x="339.17" y="1056.00" font-family="Liberation Sans" font-weight="normal" font-size="29.5" textLength="24.96" lengthAdjust="spacingAndGlyphs" fill="#1a0a0c" stroke="#1a0a0c" stroke-width="1.0">M</text>
<rect x="376.9" y="1023.8" width="74.4" height="43" fill="url(#gs)"/>
<text x="385.31" y="1056.00" font-family="Liberation Sans" font-weight="normal" font-size="29.5" textLength="18.83" lengthAdjust="spacingAndGlyphs" fill="#1a0a0c" stroke="#1a0a0c" stroke-width="1.0">S</text>
<rect x="404.68" y="1044.30" width="13" height="3.2" fill="#1a0a0c"/>
<text x="418.31" y="1056.00" font-family="Liberation Sans" font-weight="normal" font-size="29.5" textLength="24.96" lengthAdjust="spacingAndGlyphs" fill="#1a0a0c" stroke="#1a0a0c" stroke-width="1.0">M</text>
<rect x="456.0" y="1023.8" width="74.4" height="43" fill="url(#gs)"/>
<text x="464.45" y="1056.00" font-family="Liberation Sans" font-weight="normal" font-size="29.5" textLength="18.83" lengthAdjust="spacingAndGlyphs" fill="#1a0a0c" stroke="#1a0a0c" stroke-width="1.0">S</text>
<rect x="483.82" y="1044.30" width="13" height="3.2" fill="#1a0a0c"/>
<text x="497.45" y="1056.00" font-family="Liberation Sans" font-weight="normal" font-size="29.5" textLength="24.96" lengthAdjust="spacingAndGlyphs" fill="#1a0a0c" stroke="#1a0a0c" stroke-width="1.0">M</text>
<rect x="535.2" y="1023.8" width="74.4" height="43" fill="url(#gs)"/>
<text x="543.59" y="1056.00" font-family="Liberation Sans" font-weight="normal" font-size="29.5" textLength="18.83" lengthAdjust="spacingAndGlyphs" fill="#1a0a0c" stroke="#1a0a0c" stroke-width="1.0">S</text>
<rect x="562.96" y="1044.30" width="13" height="3.2" fill="#1a0a0c"/>
<text x="576.59" y="1056.00" font-family="Liberation Sans" font-weight="normal" font-size="29.5" textLength="24.96" lengthAdjust="spacingAndGlyphs" fill="#1a0a0c" stroke="#1a0a0c" stroke-width="1.0">M</text>
<rect x="614.3" y="1023.8" width="74.4" height="43" fill="url(#gs)"/>
<text x="622.73" y="1056.00" font-family="Liberation Sans" font-weight="normal" font-size="29.5" textLength="18.83" lengthAdjust="spacingAndGlyphs" fill="#1a0a0c" stroke="#1a0a0c" stroke-width="1.0">S</text>
<rect x="642.10" y="1044.30" width="13" height="3.2" fill="#1a0a0c"/>
<text x="655.73" y="1056.00" font-family="Liberation Sans" font-weight="normal" font-size="29.5" textLength="24.96" lengthAdjust="spacingAndGlyphs" fill="#1a0a0c" stroke="#1a0a0c" stroke-width="1.0">M</text>
<rect x="693.4" y="1023.8" width="74.4" height="43" fill="url(#gs)"/>
<text x="701.87" y="1056.00" font-family="Liberation Sans" font-weight="normal" font-size="29.5" textLength="18.83" lengthAdjust="spacingAndGlyphs" fill="#1a0a0c" stroke="#1a0a0c" stroke-width="1.0">S</text>
<rect x="721.24" y="1044.30" width="13" height="3.2" fill="#1a0a0c"/>
<text x="734.87" y="1056.00" font-family="Liberation Sans" font-weight="normal" font-size="29.5" textLength="24.96" lengthAdjust="spacingAndGlyphs" fill="#1a0a0c" stroke="#1a0a0c" stroke-width="1.0">M</text>
<rect x="772.6" y="1023.8" width="74.4" height="43" fill="url(#gl)"/>
<text x="777.27" y="1056.00" font-family="Liberation Sans" font-weight="normal" font-size="29.5" textLength="15.55" lengthAdjust="spacingAndGlyphs" fill="#1a0508" stroke="#1a0508" stroke-width="1.0">L</text>
<rect x="794.88" y="1043.70" width="11.6" height="3.2" fill="#1a0508"/>
<text x="808.87" y="1056.00" font-family="Liberation Sans" font-weight="normal" font-size="29.5" textLength="33.32" lengthAdjust="spacingAndGlyphs" fill="#1a0508" stroke="#1a0508" stroke-width="1.0">XL</text>
<rect x="851.7" y="1023.8" width="74.4" height="43" fill="url(#gl)"/>
<text x="856.41" y="1056.00" font-family="Liberation Sans" font-weight="normal" font-size="29.5" textLength="15.55" lengthAdjust="spacingAndGlyphs" fill="#1a0508" stroke="#1a0508" stroke-width="1.0">L</text>
<rect x="874.02" y="1043.70" width="11.6" height="3.2" fill="#1a0508"/>
<text x="888.01" y="1056.00" font-family="Liberation Sans" font-weight="normal" font-size="29.5" textLength="33.32" lengthAdjust="spacingAndGlyphs" fill="#1a0508" stroke="#1a0508" stroke-width="1.0">XL</text>
<rect x="930.9" y="1023.8" width="74.4" height="43" fill="url(#gl)"/>
<text x="935.55" y="1056.00" font-family="Liberation Sans" font-weight="normal" font-size="29.5" textLength="15.55" lengthAdjust="spacingAndGlyphs" fill="#1a0508" stroke="#1a0508" stroke-width="1.0">L</text>
<rect x="953.16" y="1043.70" width="11.6" height="3.2" fill="#1a0508"/>
<text x="967.15" y="1056.00" font-family="Liberation Sans" font-weight="normal" font-size="29.5" textLength="33.32" lengthAdjust="spacingAndGlyphs" fill="#1a0508" stroke="#1a0508" stroke-width="1.0">XL</text>
<rect x="1010.0" y="1023.8" width="74.4" height="43" fill="url(#gl)"/>
<text x="1014.69" y="1056.00" font-family="Liberation Sans" font-weight="normal" font-size="29.5" textLength="15.55" lengthAdjust="spacingAndGlyphs" fill="#1a0508" stroke="#1a0508" stroke-width="1.0">L</text>
<rect x="1032.30" y="1043.70" width="11.6" height="3.2" fill="#1a0508"/>
<text x="1046.29" y="1056.00" font-family="Liberation Sans" font-weight="normal" font-size="29.5" textLength="33.32" lengthAdjust="spacingAndGlyphs" fill="#1a0508" stroke="#1a0508" stroke-width="1.0">XL</text>
<rect x="1089.1" y="1023.8" width="74.4" height="43" fill="url(#gx)"/>
<text x="1099.22" y="1056.00" font-family="Liberation Sans" font-weight="normal" font-size="29.5" textLength="52.33" lengthAdjust="spacingAndGlyphs" fill="#fff" stroke="#fff" stroke-width="1.0">XXL</text>
<rect x="1168.3" y="1023.8" width="74.4" height="43" fill="url(#gx)"/>
<text x="1178.36" y="1056.00" font-family="Liberation Sans" font-weight="normal" font-size="29.5" textLength="52.33" lengthAdjust="spacingAndGlyphs" fill="#fff" stroke="#fff" stroke-width="1.0">XXL</text>
<rect x="1247.4" y="1023.8" width="74.4" height="43" fill="url(#gx)"/>
<text x="1257.50" y="1056.00" font-family="Liberation Sans" font-weight="normal" font-size="29.5" textLength="52.33" lengthAdjust="spacingAndGlyphs" fill="#fff" stroke="#fff" stroke-width="1.0">XXL</text>
<rect x="1326.6" y="1023.8" width="74.4" height="43" fill="url(#gx)"/>
<text x="1336.64" y="1056.00" font-family="Liberation Sans" font-weight="normal" font-size="29.5" textLength="52.33" lengthAdjust="spacingAndGlyphs" fill="#fff" stroke="#fff" stroke-width="1.0">XXL</text>
<rect x="218.6" y="1071.3" width="74.4" height="43" fill="#ededed"/>
<rect x="297.7" y="1071.3" width="74.4" height="43" fill="url(#gs)"/>
<text x="306.17" y="1103.50" font-family="Liberation Sans" font-weight="normal" font-size="29.5" textLength="18.83" lengthAdjust="spacingAndGlyphs" fill="#1a0a0c" stroke="#1a0a0c" stroke-width="1.0">S</text>
<rect x="325.54" y="1091.80" width="13" height="3.2" fill="#1a0a0c"/>
<text x="339.17" y="1103.50" font-family="Liberation Sans" font-weight="normal" font-size="29.5" textLength="24.96" lengthAdjust="spacingAndGlyphs" fill="#1a0a0c" stroke="#1a0a0c" stroke-width="1.0">M</text>
<rect x="376.9" y="1071.3" width="74.4" height="43" fill="url(#gs)"/>
<text x="385.31" y="1103.50" font-family="Liberation Sans" font-weight="normal" font-size="29.5" textLength="18.83" lengthAdjust="spacingAndGlyphs" fill="#1a0a0c" stroke="#1a0a0c" stroke-width="1.0">S</text>
<rect x="404.68" y="1091.80" width="13" height="3.2" fill="#1a0a0c"/>
<text x="418.31" y="1103.50" font-family="Liberation Sans" font-weight="normal" font-size="29.5" textLength="24.96" lengthAdjust="spacingAndGlyphs" fill="#1a0a0c" stroke="#1a0a0c" stroke-width="1.0">M</text>
<rect x="456.0" y="1071.3" width="74.4" height="43" fill="url(#gs)"/>
<text x="464.45" y="1103.50" font-family="Liberation Sans" font-weight="normal" font-size="29.5" textLength="18.83" lengthAdjust="spacingAndGlyphs" fill="#1a0a0c" stroke="#1a0a0c" stroke-width="1.0">S</text>
<rect x="483.82" y="1091.80" width="13" height="3.2" fill="#1a0a0c"/>
<text x="497.45" y="1103.50" font-family="Liberation Sans" font-weight="normal" font-size="29.5" textLength="24.96" lengthAdjust="spacingAndGlyphs" fill="#1a0a0c" stroke="#1a0a0c" stroke-width="1.0">M</text>
<rect x="535.2" y="1071.3" width="74.4" height="43" fill="url(#gs)"/>
<text x="543.59" y="1103.50" font-family="Liberation Sans" font-weight="normal" font-size="29.5" textLength="18.83" lengthAdjust="spacingAndGlyphs" fill="#1a0a0c" stroke="#1a0a0c" stroke-width="1.0">S</text>
<rect x="562.96" y="1091.80" width="13" height="3.2" fill="#1a0a0c"/>
<text x="576.59" y="1103.50" font-family="Liberation Sans" font-weight="normal" font-size="29.5" textLength="24.96" lengthAdjust="spacingAndGlyphs" fill="#1a0a0c" stroke="#1a0a0c" stroke-width="1.0">M</text>
<rect x="614.3" y="1071.3" width="74.4" height="43" fill="url(#gs)"/>
<text x="622.73" y="1103.50" font-family="Liberation Sans" font-weight="normal" font-size="29.5" textLength="18.83" lengthAdjust="spacingAndGlyphs" fill="#1a0a0c" stroke="#1a0a0c" stroke-width="1.0">S</text>
<rect x="642.10" y="1091.80" width="13" height="3.2" fill="#1a0a0c"/>
<text x="655.73" y="1103.50" font-family="Liberation Sans" font-weight="normal" font-size="29.5" textLength="24.96" lengthAdjust="spacingAndGlyphs" fill="#1a0a0c" stroke="#1a0a0c" stroke-width="1.0">M</text>
<rect x="693.4" y="1071.3" width="74.4" height="43" fill="url(#gs)"/>
<text x="701.87" y="1103.50" font-family="Liberation Sans" font-weight="normal" font-size="29.5" textLength="18.83" lengthAdjust="spacingAndGlyphs" fill="#1a0a0c" stroke="#1a0a0c" stroke-width="1.0">S</text>
<rect x="721.24" y="1091.80" width="13" height="3.2" fill="#1a0a0c"/>
<text x="734.87" y="1103.50" font-family="Liberation Sans" font-weight="normal" font-size="29.5" textLength="24.96" lengthAdjust="spacingAndGlyphs" fill="#1a0a0c" stroke="#1a0a0c" stroke-width="1.0">M</text>
<rect x="772.6" y="1071.3" width="74.4" height="43" fill="url(#gl)"/>
<text x="777.27" y="1103.50" font-family="Liberation Sans" font-weight="normal" font-size="29.5" textLength="15.55" lengthAdjust="spacingAndGlyphs" fill="#1a0508" stroke="#1a0508" stroke-width="1.0">L</text>
<rect x="794.88" y="1091.20" width="11.6" height="3.2" fill="#1a0508"/>
<text x="808.87" y="1103.50" font-family="Liberation Sans" font-weight="normal" font-size="29.5" textLength="33.32" lengthAdjust="spacingAndGlyphs" fill="#1a0508" stroke="#1a0508" stroke-width="1.0">XL</text>
<rect x="851.7" y="1071.3" width="74.4" height="43" fill="url(#gl)"/>
<text x="856.41" y="1103.50" font-family="Liberation Sans" font-weight="normal" font-size="29.5" textLength="15.55" lengthAdjust="spacingAndGlyphs" fill="#1a0508" stroke="#1a0508" stroke-width="1.0">L</text>
<rect x="874.02" y="1091.20" width="11.6" height="3.2" fill="#1a0508"/>
<text x="888.01" y="1103.50" font-family="Liberation Sans" font-weight="normal" font-size="29.5" textLength="33.32" lengthAdjust="spacingAndGlyphs" fill="#1a0508" stroke="#1a0508" stroke-width="1.0">XL</text>
<rect x="930.9" y="1071.3" width="74.4" height="43" fill="url(#gl)"/>
<text x="935.55" y="1103.50" font-family="Liberation Sans" font-weight="normal" font-size="29.5" textLength="15.55" lengthAdjust="spacingAndGlyphs" fill="#1a0508" stroke="#1a0508" stroke-width="1.0">L</text>
<rect x="953.16" y="1091.20" width="11.6" height="3.2" fill="#1a0508"/>
<text x="967.15" y="1103.50" font-family="Liberation Sans" font-weight="normal" font-size="29.5" textLength="33.32" lengthAdjust="spacingAndGlyphs" fill="#1a0508" stroke="#1a0508" stroke-width="1.0">XL</text>
<rect x="1010.0" y="1071.3" width="74.4" height="43" fill="url(#gl)"/>
<text x="1014.69" y="1103.50" font-family="Liberation Sans" font-weight="normal" font-size="29.5" textLength="15.55" lengthAdjust="spacingAndGlyphs" fill="#1a0508" stroke="#1a0508" stroke-width="1.0">L</text>
<rect x="1032.30" y="1091.20" width="11.6" height="3.2" fill="#1a0508"/>
<text x="1046.29" y="1103.50" font-family="Liberation Sans" font-weight="normal" font-size="29.5" textLength="33.32" lengthAdjust="spacingAndGlyphs" fill="#1a0508" stroke="#1a0508" stroke-width="1.0">XL</text>
<rect x="1089.1" y="1071.3" width="74.4" height="43" fill="url(#gx)"/>
<text x="1099.22" y="1103.50" font-family="Liberation Sans" font-weight="normal" font-size="29.5" textLength="52.33" lengthAdjust="spacingAndGlyphs" fill="#fff" stroke="#fff" stroke-width="1.0">XXL</text>
<rect x="1168.3" y="1071.3" width="74.4" height="43" fill="url(#gx)"/>
<text x="1178.36" y="1103.50" font-family="Liberation Sans" font-weight="normal" font-size="29.5" textLength="52.33" lengthAdjust="spacingAndGlyphs" fill="#fff" stroke="#fff" stroke-width="1.0">XXL</text>
<rect x="1247.4" y="1071.3" width="74.4" height="43" fill="url(#gx)"/>
<text x="1257.50" y="1103.50" font-family="Liberation Sans" font-weight="normal" font-size="29.5" textLength="52.33" lengthAdjust="spacingAndGlyphs" fill="#fff" stroke="#fff" stroke-width="1.0">XXL</text>
<rect x="1326.6" y="1071.3" width="74.4" height="43" fill="url(#gx)"/>
<text x="1336.64" y="1103.50" font-family="Liberation Sans" font-weight="normal" font-size="29.5" textLength="52.33" lengthAdjust="spacingAndGlyphs" fill="#fff" stroke="#fff" stroke-width="1.0">XXL</text>
<rect x="218.6" y="1118.8" width="74.4" height="43" fill="#ededed"/>
<rect x="297.7" y="1118.8" width="74.4" height="43" fill="#ededed"/>
<rect x="376.9" y="1118.8" width="74.4" height="43" fill="url(#gs)"/>
<text x="385.31" y="1151.00" font-family="Liberation Sans" font-weight="normal" font-size="29.5" textLength="18.83" lengthAdjust="spacingAndGlyphs" fill="#1a0a0c" stroke="#1a0a0c" stroke-width="1.0">S</text>
<rect x="404.68" y="1139.30" width="13" height="3.2" fill="#1a0a0c"/>
<text x="418.31" y="1151.00" font-family="Liberation Sans" font-weight="normal" font-size="29.5" textLength="24.96" lengthAdjust="spacingAndGlyphs" fill="#1a0a0c" stroke="#1a0a0c" stroke-width="1.0">M</text>
<rect x="456.0" y="1118.8" width="74.4" height="43" fill="url(#gs)"/>
<text x="464.45" y="1151.00" font-family="Liberation Sans" font-weight="normal" font-size="29.5" textLength="18.83" lengthAdjust="spacingAndGlyphs" fill="#1a0a0c" stroke="#1a0a0c" stroke-width="1.0">S</text>
<rect x="483.82" y="1139.30" width="13" height="3.2" fill="#1a0a0c"/>
<text x="497.45" y="1151.00" font-family="Liberation Sans" font-weight="normal" font-size="29.5" textLength="24.96" lengthAdjust="spacingAndGlyphs" fill="#1a0a0c" stroke="#1a0a0c" stroke-width="1.0">M</text>
<rect x="535.2" y="1118.8" width="74.4" height="43" fill="url(#gs)"/>
<text x="543.59" y="1151.00" font-family="Liberation Sans" font-weight="normal" font-size="29.5" textLength="18.83" lengthAdjust="spacingAndGlyphs" fill="#1a0a0c" stroke="#1a0a0c" stroke-width="1.0">S</text>
<rect x="562.96" y="1139.30" width="13" height="3.2" fill="#1a0a0c"/>
<text x="576.59" y="1151.00" font-family="Liberation Sans" font-weight="normal" font-size="29.5" textLength="24.96" lengthAdjust="spacingAndGlyphs" fill="#1a0a0c" stroke="#1a0a0c" stroke-width="1.0">M</text>
<rect x="614.3" y="1118.8" width="74.4" height="43" fill="url(#gl)"/>
<text x="618.99" y="1151.00" font-family="Liberation Sans" font-weight="normal" font-size="29.5" textLength="15.55" lengthAdjust="spacingAndGlyphs" fill="#1a0508" stroke="#1a0508" stroke-width="1.0">L</text>
<rect x="636.60" y="1138.70" width="11.6" height="3.2" fill="#1a0508"/>
<text x="650.59" y="1151.00" font-family="Liberation Sans" font-weight="normal" font-size="29.5" textLength="33.32" lengthAdjust="spacingAndGlyphs" fill="#1a0508" stroke="#1a0508" stroke-width="1.0">XL</text>
<rect x="693.4" y="1118.8" width="74.4" height="43" fill="url(#gl)"/>
<text x="698.13" y="1151.00" font-family="Liberation Sans" font-weight="normal" font-size="29.5" textLength="15.55" lengthAdjust="spacingAndGlyphs" fill="#1a0508" stroke="#1a0508" stroke-width="1.0">L</text>
<rect x="715.74" y="1138.70" width="11.6" height="3.2" fill="#1a0508"/>
<text x="729.73" y="1151.00" font-family="Liberation Sans" font-weight="normal" font-size="29.5" textLength="33.32" lengthAdjust="spacingAndGlyphs" fill="#1a0508" stroke="#1a0508" stroke-width="1.0">XL</text>
<rect x="772.6" y="1118.8" width="74.4" height="43" fill="url(#gl)"/>
<text x="777.27" y="1151.00" font-family="Liberation Sans" font-weight="normal" font-size="29.5" textLength="15.55" lengthAdjust="spacingAndGlyphs" fill="#1a0508" stroke="#1a0508" stroke-width="1.0">L</text>
<rect x="794.88" y="1138.70" width="11.6" height="3.2" fill="#1a0508"/>
<text x="808.87" y="1151.00" font-family="Liberation Sans" font-weight="normal" font-size="29.5" textLength="33.32" lengthAdjust="spacingAndGlyphs" fill="#1a0508" stroke="#1a0508" stroke-width="1.0">XL</text>
<rect x="851.7" y="1118.8" width="74.4" height="43" fill="url(#gl)"/>
<text x="856.41" y="1151.00" font-family="Liberation Sans" font-weight="normal" font-size="29.5" textLength="15.55" lengthAdjust="spacingAndGlyphs" fill="#1a0508" stroke="#1a0508" stroke-width="1.0">L</text>
<rect x="874.02" y="1138.70" width="11.6" height="3.2" fill="#1a0508"/>
<text x="888.01" y="1151.00" font-family="Liberation Sans" font-weight="normal" font-size="29.5" textLength="33.32" lengthAdjust="spacingAndGlyphs" fill="#1a0508" stroke="#1a0508" stroke-width="1.0">XL</text>
<rect x="930.9" y="1118.8" width="74.4" height="43" fill="url(#gl)"/>
<text x="935.55" y="1151.00" font-family="Liberation Sans" font-weight="normal" font-size="29.5" textLength="15.55" lengthAdjust="spacingAndGlyphs" fill="#1a0508" stroke="#1a0508" stroke-width="1.0">L</text>
<rect x="953.16" y="1138.70" width="11.6" height="3.2" fill="#1a0508"/>
<text x="967.15" y="1151.00" font-family="Liberation Sans" font-weight="normal" font-size="29.5" textLength="33.32" lengthAdjust="spacingAndGlyphs" fill="#1a0508" stroke="#1a0508" stroke-width="1.0">XL</text>
<rect x="1010.0" y="1118.8" width="74.4" height="43" fill="url(#gl)"/>
<text x="1014.69" y="1151.00" font-family="Liberation Sans" font-weight="normal" font-size="29.5" textLength="15.55" lengthAdjust="spacingAndGlyphs" fill="#1a0508" stroke="#1a0508" stroke-width="1.0">L</text>
<rect x="1032.30" y="1138.70" width="11.6" height="3.2" fill="#1a0508"/>
<text x="1046.29" y="1151.00" font-family="Liberation Sans" font-weight="normal" font-size="29.5" textLength="33.32" lengthAdjust="spacingAndGlyphs" fill="#1a0508" stroke="#1a0508" stroke-width="1.0">XL</text>
<rect x="1089.1" y="1118.8" width="74.4" height="43" fill="url(#gx)"/>
<text x="1099.22" y="1151.00" font-family="Liberation Sans" font-weight="normal" font-size="29.5" textLength="52.33" lengthAdjust="spacingAndGlyphs" fill="#fff" stroke="#fff" stroke-width="1.0">XXL</text>
<rect x="1168.3" y="1118.8" width="74.4" height="43" fill="url(#gx)"/>
<text x="1178.36" y="1151.00" font-family="Liberation Sans" font-weight="normal" font-size="29.5" textLength="52.33" lengthAdjust="spacingAndGlyphs" fill="#fff" stroke="#fff" stroke-width="1.0">XXL</text>
<rect x="1247.4" y="1118.8" width="74.4" height="43" fill="url(#gx)"/>
<text x="1257.50" y="1151.00" font-family="Liberation Sans" font-weight="normal" font-size="29.5" textLength="52.33" lengthAdjust="spacingAndGlyphs" fill="#fff" stroke="#fff" stroke-width="1.0">XXL</text>
<rect x="1326.6" y="1118.8" width="74.4" height="43" fill="url(#gx)"/>
<text x="1336.64" y="1151.00" font-family="Liberation Sans" font-weight="normal" font-size="29.5" textLength="52.33" lengthAdjust="spacingAndGlyphs" fill="#fff" stroke="#fff" stroke-width="1.0">XXL</text>
<rect x="218.6" y="1166.3" width="74.4" height="43" fill="#ededed"/>
<rect x="297.7" y="1166.3" width="74.4" height="43" fill="#ededed"/>
<rect x="376.9" y="1166.3" width="74.4" height="43" fill="#ededed"/>
<rect x="456.0" y="1166.3" width="74.4" height="43" fill="url(#gs)"/>
<text x="464.45" y="1198.50" font-family="Liberation Sans" font-weight="normal" font-size="29.5" textLength="18.83" lengthAdjust="spacingAndGlyphs" fill="#1a0a0c" stroke="#1a0a0c" stroke-width="1.0">S</text>
<rect x="483.82" y="1186.80" width="13" height="3.2" fill="#1a0a0c"/>
<text x="497.45" y="1198.50" font-family="Liberation Sans" font-weight="normal" font-size="29.5" textLength="24.96" lengthAdjust="spacingAndGlyphs" fill="#1a0a0c" stroke="#1a0a0c" stroke-width="1.0">M</text>
<rect x="535.2" y="1166.3" width="74.4" height="43" fill="url(#gs)"/>
<text x="543.59" y="1198.50" font-family="Liberation Sans" font-weight="normal" font-size="29.5" textLength="18.83" lengthAdjust="spacingAndGlyphs" fill="#1a0a0c" stroke="#1a0a0c" stroke-width="1.0">S</text>
<rect x="562.96" y="1186.80" width="13" height="3.2" fill="#1a0a0c"/>
<text x="576.59" y="1198.50" font-family="Liberation Sans" font-weight="normal" font-size="29.5" textLength="24.96" lengthAdjust="spacingAndGlyphs" fill="#1a0a0c" stroke="#1a0a0c" stroke-width="1.0">M</text>
<rect x="614.3" y="1166.3" width="74.4" height="43" fill="url(#gl)"/>
<text x="618.99" y="1198.50" font-family="Liberation Sans" font-weight="normal" font-size="29.5" textLength="15.55" lengthAdjust="spacingAndGlyphs" fill="#1a0508" stroke="#1a0508" stroke-width="1.0">L</text>
<rect x="636.60" y="1186.20" width="11.6" height="3.2" fill="#1a0508"/>
<text x="650.59" y="1198.50" font-family="Liberation Sans" font-weight="normal" font-size="29.5" textLength="33.32" lengthAdjust="spacingAndGlyphs" fill="#1a0508" stroke="#1a0508" stroke-width="1.0">XL</text>
<rect x="693.4" y="1166.3" width="74.4" height="43" fill="url(#gl)"/>
<text x="698.13" y="1198.50" font-family="Liberation Sans" font-weight="normal" font-size="29.5" textLength="15.55" lengthAdjust="spacingAndGlyphs" fill="#1a0508" stroke="#1a0508" stroke-width="1.0">L</text>
<rect x="715.74" y="1186.20" width="11.6" height="3.2" fill="#1a0508"/>
<text x="729.73" y="1198.50" font-family="Liberation Sans" font-weight="normal" font-size="29.5" textLength="33.32" lengthAdjust="spacingAndGlyphs" fill="#1a0508" stroke="#1a0508" stroke-width="1.0">XL</text>
<rect x="772.6" y="1166.3" width="74.4" height="43" fill="url(#gl)"/>
<text x="777.27" y="1198.50" font-family="Liberation Sans" font-weight="normal" font-size="29.5" textLength="15.55" lengthAdjust="spacingAndGlyphs" fill="#1a0508" stroke="#1a0508" stroke-width="1.0">L</text>
<rect x="794.88" y="1186.20" width="11.6" height="3.2" fill="#1a0508"/>
<text x="808.87" y="1198.50" font-family="Liberation Sans" font-weight="normal" font-size="29.5" textLength="33.32" lengthAdjust="spacingAndGlyphs" fill="#1a0508" stroke="#1a0508" stroke-width="1.0">XL</text>
<rect x="851.7" y="1166.3" width="74.4" height="43" fill="url(#gl)"/>
<text x="856.41" y="1198.50" font-family="Liberation Sans" font-weight="normal" font-size="29.5" textLength="15.55" lengthAdjust="spacingAndGlyphs" fill="#1a0508" stroke="#1a0508" stroke-width="1.0">L</text>
<rect x="874.02" y="1186.20" width="11.6" height="3.2" fill="#1a0508"/>
<text x="888.01" y="1198.50" font-family="Liberation Sans" font-weight="normal" font-size="29.5" textLength="33.32" lengthAdjust="spacingAndGlyphs" fill="#1a0508" stroke="#1a0508" stroke-width="1.0">XL</text>
<rect x="930.9" y="1166.3" width="74.4" height="43" fill="url(#gl)"/>
<text x="935.55" y="1198.50" font-family="Liberation Sans" font-weight="normal" font-size="29.5" textLength="15.55" lengthAdjust="spacingAndGlyphs" fill="#1a0508" stroke="#1a0508" stroke-width="1.0">L</text>
<rect x="953.16" y="1186.20" width="11.6" height="3.2" fill="#1a0508"/>
<text x="967.15" y="1198.50" font-family="Liberation Sans" font-weight="normal" font-size="29.5" textLength="33.32" lengthAdjust="spacingAndGlyphs" fill="#1a0508" stroke="#1a0508" stroke-width="1.0">XL</text>
<rect x="1010.0" y="1166.3" width="74.4" height="43" fill="url(#gl)"/>
<text x="1014.69" y="1198.50" font-family="Liberation Sans" font-weight="normal" font-size="29.5" textLength="15.55" lengthAdjust="spacingAndGlyphs" fill="#1a0508" stroke="#1a0508" stroke-width="1.0">L</text>
<rect x="1032.30" y="1186.20" width="11.6" height="3.2" fill="#1a0508"/>
<text x="1046.29" y="1198.50" font-family="Liberation Sans" font-weight="normal" font-size="29.5" textLength="33.32" lengthAdjust="spacingAndGlyphs" fill="#1a0508" stroke="#1a0508" stroke-width="1.0">XL</text>
<rect x="1089.1" y="1166.3" width="74.4" height="43" fill="url(#gx)"/>
<text x="1099.22" y="1198.50" font-family="Liberation Sans" font-weight="normal" font-size="29.5" textLength="52.33" lengthAdjust="spacingAndGlyphs" fill="#fff" stroke="#fff" stroke-width="1.0">XXL</text>
<rect x="1168.3" y="1166.3" width="74.4" height="43" fill="url(#gx)"/>
<text x="1178.36" y="1198.50" font-family="Liberation Sans" font-weight="normal" font-size="29.5" textLength="52.33" lengthAdjust="spacingAndGlyphs" fill="#fff" stroke="#fff" stroke-width="1.0">XXL</text>
<rect x="1247.4" y="1166.3" width="74.4" height="43" fill="url(#gx)"/>
<text x="1257.50" y="1198.50" font-family="Liberation Sans" font-weight="normal" font-size="29.5" textLength="52.33" lengthAdjust="spacingAndGlyphs" fill="#fff" stroke="#fff" stroke-width="1.0">XXL</text>
<rect x="1326.6" y="1166.3" width="74.4" height="43" fill="url(#gx)"/>
<text x="1336.64" y="1198.50" font-family="Liberation Sans" font-weight="normal" font-size="29.5" textLength="52.33" lengthAdjust="spacingAndGlyphs" fill="#fff" stroke="#fff" stroke-width="1.0">XXL</text>
<rect x="218.6" y="1213.8" width="74.4" height="43" fill="#ededed"/>
<rect x="297.7" y="1213.8" width="74.4" height="43" fill="#ededed"/>
<rect x="376.9" y="1213.8" width="74.4" height="43" fill="#ededed"/>
<rect x="456.0" y="1213.8" width="74.4" height="43" fill="#ededed"/>
<rect x="535.2" y="1213.8" width="74.4" height="43" fill="#ededed"/>
<rect x="614.3" y="1213.8" width="74.4" height="43" fill="url(#gl)"/>
<text x="618.99" y="1246.00" font-family="Liberation Sans" font-weight="normal" font-size="29.5" textLength="15.55" lengthAdjust="spacingAndGlyphs" fill="#1a0508" stroke="#1a0508" stroke-width="1.0">L</text>
<rect x="636.60" y="1233.70" width="11.6" height="3.2" fill="#1a0508"/>
<text x="650.59" y="1246.00" font-family="Liberation Sans" font-weight="normal" font-size="29.5" textLength="33.32" lengthAdjust="spacingAndGlyphs" fill="#1a0508" stroke="#1a0508" stroke-width="1.0">XL</text>
<rect x="693.4" y="1213.8" width="74.4" height="43" fill="url(#gl)"/>
<text x="698.13" y="1246.00" font-family="Liberation Sans" font-weight="normal" font-size="29.5" textLength="15.55" lengthAdjust="spacingAndGlyphs" fill="#1a0508" stroke="#1a0508" stroke-width="1.0">L</text>
<rect x="715.74" y="1233.70" width="11.6" height="3.2" fill="#1a0508"/>
<text x="729.73" y="1246.00" font-family="Liberation Sans" font-weight="normal" font-size="29.5" textLength="33.32" lengthAdjust="spacingAndGlyphs" fill="#1a0508" stroke="#1a0508" stroke-width="1.0">XL</text>
<rect x="772.6" y="1213.8" width="74.4" height="43" fill="url(#gl)"/>
<text x="777.27" y="1246.00" font-family="Liberation Sans" font-weight="normal" font-size="29.5" textLength="15.55" lengthAdjust="spacingAndGlyphs" fill="#1a0508" stroke="#1a0508" stroke-width="1.0">L</text>
<rect x="794.88" y="1233.70" width="11.6" height="3.2" fill="#1a0508"/>
<text x="808.87" y="1246.00" font-family="Liberation Sans" font-weight="normal" font-size="29.5" textLength="33.32" lengthAdjust="spacingAndGlyphs" fill="#1a0508" stroke="#1a0508" stroke-width="1.0">XL</text>
<rect x="851.7" y="1213.8" width="74.4" height="43" fill="url(#gx)"/>
<text x="861.80" y="1246.00" font-family="Liberation Sans" font-weight="normal" font-size="29.5" textLength="52.33" lengthAdjust="spacingAndGlyphs" fill="#fff" stroke="#fff" stroke-width="1.0">XXL</text>
<rect x="930.9" y="1213.8" width="74.4" height="43" fill="url(#gx)"/>
<text x="940.94" y="1246.00" font-family="Liberation Sans" font-weight="normal" font-size="29.5" textLength="52.33" lengthAdjust="spacingAndGlyphs" fill="#fff" stroke="#fff" stroke-width="1.0">XXL</text>
<rect x="1010.0" y="1213.8" width="74.4" height="43" fill="url(#gx)"/>
<text x="1020.08" y="1246.00" font-family="Liberation Sans" font-weight="normal" font-size="29.5" textLength="52.33" lengthAdjust="spacingAndGlyphs" fill="#fff" stroke="#fff" stroke-width="1.0">XXL</text>
<rect x="1089.1" y="1213.8" width="74.4" height="43" fill="url(#gx)"/>
<text x="1099.22" y="1246.00" font-family="Liberation Sans" font-weight="normal" font-size="29.5" textLength="52.33" lengthAdjust="spacingAndGlyphs" fill="#fff" stroke="#fff" stroke-width="1.0">XXL</text>
<rect x="1168.3" y="1213.8" width="74.4" height="43" fill="url(#gx)"/>
<text x="1178.36" y="1246.00" font-family="Liberation Sans" font-weight="normal" font-size="29.5" textLength="52.33" lengthAdjust="spacingAndGlyphs" fill="#fff" stroke="#fff" stroke-width="1.0">XXL</text>
<rect x="1247.4" y="1213.8" width="74.4" height="43" fill="url(#gx)"/>
<text x="1257.50" y="1246.00" font-family="Liberation Sans" font-weight="normal" font-size="29.5" textLength="52.33" lengthAdjust="spacingAndGlyphs" fill="#fff" stroke="#fff" stroke-width="1.0">XXL</text>
<rect x="1326.6" y="1213.8" width="74.4" height="43" fill="url(#gx)"/>
<text x="1336.64" y="1246.00" font-family="Liberation Sans" font-weight="normal" font-size="29.5" textLength="52.33" lengthAdjust="spacingAndGlyphs" fill="#fff" stroke="#fff" stroke-width="1.0">XXL</text>
<rect x="218.6" y="1261.3" width="74.4" height="43" fill="#ededed"/>
<rect x="297.7" y="1261.3" width="74.4" height="43" fill="#ededed"/>
<rect x="376.9" y="1261.3" width="74.4" height="43" fill="#ededed"/>
<rect x="456.0" y="1261.3" width="74.4" height="43" fill="#ededed"/>
<rect x="535.2" y="1261.3" width="74.4" height="43" fill="#ededed"/>
<rect x="614.3" y="1261.3" width="74.4" height="43" fill="#ededed"/>
<rect x="693.4" y="1261.3" width="74.4" height="43" fill="url(#gl)"/>
<text x="698.13" y="1293.50" font-family="Liberation Sans" font-weight="normal" font-size="29.5" textLength="15.55" lengthAdjust="spacingAndGlyphs" fill="#1a0508" stroke="#1a0508" stroke-width="1.0">L</text>
<rect x="715.74" y="1281.20" width="11.6" height="3.2" fill="#1a0508"/>
<text x="729.73" y="1293.50" font-family="Liberation Sans" font-weight="normal" font-size="29.5" textLength="33.32" lengthAdjust="spacingAndGlyphs" fill="#1a0508" stroke="#1a0508" stroke-width="1.0">XL</text>
<rect x="772.6" y="1261.3" width="74.4" height="43" fill="url(#gx)"/>
<text x="782.66" y="1293.50" font-family="Liberation Sans" font-weight="normal" font-size="29.5" textLength="52.33" lengthAdjust="spacingAndGlyphs" fill="#fff" stroke="#fff" stroke-width="1.0">XXL</text>
<rect x="851.7" y="1261.3" width="74.4" height="43" fill="url(#gx)"/>
<text x="861.80" y="1293.50" font-family="Liberation Sans" font-weight="normal" font-size="29.5" textLength="52.33" lengthAdjust="spacingAndGlyphs" fill="#fff" stroke="#fff" stroke-width="1.0">XXL</text>
<rect x="930.9" y="1261.3" width="74.4" height="43" fill="url(#gx)"/>
<text x="940.94" y="1293.50" font-family="Liberation Sans" font-weight="normal" font-size="29.5" textLength="52.33" lengthAdjust="spacingAndGlyphs" fill="#fff" stroke="#fff" stroke-width="1.0">XXL</text>
<rect x="1010.0" y="1261.3" width="74.4" height="43" fill="url(#gx)"/>
<text x="1020.08" y="1293.50" font-family="Liberation Sans" font-weight="normal" font-size="29.5" textLength="52.33" lengthAdjust="spacingAndGlyphs" fill="#fff" stroke="#fff" stroke-width="1.0">XXL</text>
<rect x="1089.1" y="1261.3" width="74.4" height="43" fill="url(#gx)"/>
<text x="1099.22" y="1293.50" font-family="Liberation Sans" font-weight="normal" font-size="29.5" textLength="52.33" lengthAdjust="spacingAndGlyphs" fill="#fff" stroke="#fff" stroke-width="1.0">XXL</text>
<rect x="1168.3" y="1261.3" width="74.4" height="43" fill="url(#gx)"/>
<text x="1178.36" y="1293.50" font-family="Liberation Sans" font-weight="normal" font-size="29.5" textLength="52.33" lengthAdjust="spacingAndGlyphs" fill="#fff" stroke="#fff" stroke-width="1.0">XXL</text>
<rect x="1247.4" y="1261.3" width="74.4" height="43" fill="url(#gx)"/>
<text x="1257.50" y="1293.50" font-family="Liberation Sans" font-weight="normal" font-size="29.5" textLength="52.33" lengthAdjust="spacingAndGlyphs" fill="#fff" stroke="#fff" stroke-width="1.0">XXL</text>
<rect x="1326.6" y="1261.3" width="74.4" height="43" fill="url(#gx)"/>
<text x="1336.64" y="1293.50" font-family="Liberation Sans" font-weight="normal" font-size="29.5" textLength="52.33" lengthAdjust="spacingAndGlyphs" fill="#fff" stroke="#fff" stroke-width="1.0">XXL</text>
<text x="85.60" y="809.90" font-family="Liberation Sans" font-weight="normal" font-size="25" textLength="73.71" lengthAdjust="spacingAndGlyphs" fill="#111" stroke="#111" stroke-width="0.9">Height</text>
<text x="73.87" y="840.40" font-family="Liberation Sans" font-weight="normal" font-size="25" textLength="35.47" lengthAdjust="spacingAndGlyphs" fill="#111" stroke="#111" stroke-width="0.9">cm</text>
<text x="147.11" y="840.40" font-family="Liberation Sans" font-weight="normal" font-size="25" textLength="14.40" lengthAdjust="spacingAndGlyphs" fill="#111" stroke="#111" stroke-width="0.9">ft</text>
<rect x="122.1" y="842" width="4" height="455" fill="#111"/>
<path d="M124.1 831.5 L116.5 849 L124.1 845 L131.7 849 Z" fill="#111"/>
<path d="M124.1 1308 L116.5 1291 L124.1 1295 L131.7 1291 Z" fill="#111"/>
<text x="71.00" y="887.20" font-family="Liberation Sans" font-weight="normal" font-size="27.5" textLength="40.13" lengthAdjust="spacingAndGlyphs" fill="#111" stroke="#111" stroke-width="0.9">150</text>
<text x="138.86" y="887.20" font-family="Liberation Sans" font-weight="normal" font-size="27.5" textLength="32.28" lengthAdjust="spacingAndGlyphs" fill="#111" stroke="#111" stroke-width="0.9">4’9</text>
<rect x="174.5" y="869.0" width="8.2" height="3.4" fill="#111"/>
<rect x="116.2" y="876.7" width="16.5" height="2.6" fill="#111"/>
<text x="70.99" y="934.70" font-family="Liberation Sans" font-weight="normal" font-size="27.5" textLength="40.19" lengthAdjust="spacingAndGlyphs" fill="#111" stroke="#111" stroke-width="0.9">155</text>
<text x="138.42" y="934.70" font-family="Liberation Sans" font-weight="normal" font-size="27.5" textLength="32.80" lengthAdjust="spacingAndGlyphs" fill="#111" stroke="#111" stroke-width="0.9">5’1</text>
<rect x="174.5" y="916.5" width="8.2" height="3.4" fill="#111"/>
<rect x="116.2" y="924.2" width="16.5" height="2.6" fill="#111"/>
<text x="71.00" y="982.20" font-family="Liberation Sans" font-weight="normal" font-size="27.5" textLength="40.13" lengthAdjust="spacingAndGlyphs" fill="#111" stroke="#111" stroke-width="0.9">160</text>
<text x="138.41" y="982.20" font-family="Liberation Sans" font-weight="normal" font-size="27.5" textLength="32.87" lengthAdjust="spacingAndGlyphs" fill="#111" stroke="#111" stroke-width="0.9">5’2</text>
<rect x="174.5" y="964.0" width="8.2" height="3.4" fill="#111"/>
<rect x="116.2" y="971.7" width="16.5" height="2.6" fill="#111"/>
<text x="70.99" y="1029.70" font-family="Liberation Sans" font-weight="normal" font-size="27.5" textLength="40.19" lengthAdjust="spacingAndGlyphs" fill="#111" stroke="#111" stroke-width="0.9">165</text>
<text x="138.43" y="1029.70" font-family="Liberation Sans" font-weight="normal" font-size="27.5" textLength="32.28" lengthAdjust="spacingAndGlyphs" fill="#111" stroke="#111" stroke-width="0.9">5’4</text>
<rect x="174.5" y="1011.5" width="8.2" height="3.4" fill="#111"/>
<rect x="116.2" y="1019.2" width="16.5" height="2.6" fill="#111"/>
<text x="71.00" y="1077.20" font-family="Liberation Sans" font-weight="normal" font-size="27.5" textLength="40.13" lengthAdjust="spacingAndGlyphs" fill="#111" stroke="#111" stroke-width="0.9">170</text>
<text x="138.42" y="1077.20" font-family="Liberation Sans" font-weight="normal" font-size="27.5" textLength="32.67" lengthAdjust="spacingAndGlyphs" fill="#111" stroke="#111" stroke-width="0.9">5’6</text>
<rect x="174.5" y="1059.0" width="8.2" height="3.4" fill="#111"/>
<rect x="116.2" y="1066.7" width="16.5" height="2.6" fill="#111"/>
<text x="70.99" y="1124.70" font-family="Liberation Sans" font-weight="normal" font-size="27.5" textLength="40.19" lengthAdjust="spacingAndGlyphs" fill="#111" stroke="#111" stroke-width="0.9">175</text>
<text x="138.41" y="1124.70" font-family="Liberation Sans" font-weight="normal" font-size="27.5" textLength="32.87" lengthAdjust="spacingAndGlyphs" fill="#111" stroke="#111" stroke-width="0.9">5’7</text>
<rect x="174.5" y="1106.5" width="8.2" height="3.4" fill="#111"/>
<rect x="116.2" y="1114.2" width="16.5" height="2.6" fill="#111"/>
<text x="71.00" y="1172.20" font-family="Liberation Sans" font-weight="normal" font-size="27.5" textLength="40.13" lengthAdjust="spacingAndGlyphs" fill="#111" stroke="#111" stroke-width="0.9">180</text>
<text x="138.42" y="1172.20" font-family="Liberation Sans" font-weight="normal" font-size="27.5" textLength="32.73" lengthAdjust="spacingAndGlyphs" fill="#111" stroke="#111" stroke-width="0.9">5’9</text>
<rect x="174.5" y="1154.0" width="8.2" height="3.4" fill="#111"/>
<rect x="116.2" y="1161.7" width="16.5" height="2.6" fill="#111"/>
<text x="70.99" y="1219.70" font-family="Liberation Sans" font-weight="normal" font-size="27.5" textLength="40.19" lengthAdjust="spacingAndGlyphs" fill="#111" stroke="#111" stroke-width="0.9">185</text>
<text x="138.16" y="1219.70" font-family="Liberation Sans" font-weight="normal" font-size="27.5" textLength="33.07" lengthAdjust="spacingAndGlyphs" fill="#111" stroke="#111" stroke-width="0.9">6’1</text>
<rect x="174.5" y="1201.5" width="8.2" height="3.4" fill="#111"/>
<rect x="116.2" y="1209.2" width="16.5" height="2.6" fill="#111"/>
<text x="71.00" y="1267.20" font-family="Liberation Sans" font-weight="normal" font-size="27.5" textLength="40.13" lengthAdjust="spacingAndGlyphs" fill="#111" stroke="#111" stroke-width="0.9">190</text>
<text x="138.16" y="1267.20" font-family="Liberation Sans" font-weight="normal" font-size="27.5" textLength="33.13" lengthAdjust="spacingAndGlyphs" fill="#111" stroke="#111" stroke-width="0.9">6’2</text>
<rect x="174.5" y="1249.0" width="8.2" height="3.4" fill="#111"/>
<rect x="116.2" y="1256.7" width="16.5" height="2.6" fill="#111"/>
<text x="214.52" y="1343.70" font-family="Liberation Sans" font-weight="normal" font-size="26.5" textLength="33.73" lengthAdjust="spacingAndGlyphs" fill="#111" stroke="#111" stroke-width="0.9">lbs</text>
<text x="118.67" y="1368.00" font-family="Liberation Sans" font-weight="normal" font-size="25" textLength="77.80" lengthAdjust="spacingAndGlyphs" fill="#111" stroke="#111" stroke-width="0.9">Weight</text>
<text x="211.15" y="1393.50" font-family="Liberation Sans" font-weight="normal" font-size="26.5" textLength="40.39" lengthAdjust="spacingAndGlyphs" fill="#111" stroke="#111" stroke-width="0.9">kgs</text>
<rect x="220" y="1357.3" width="1182" height="3.8" fill="#111"/>
<path d="M209.2 1359.2 L226.8 1350.8 L223 1359.2 L226.8 1367.6 Z" fill="#111"/>
<path d="M1416 1359.2 L1398.5 1350.8 L1402.3 1359.2 L1398.5 1367.6 Z" fill="#111"/>
<text x="281.02" y="1344.00" font-family="Liberation Sans" font-weight="normal" font-size="28" textLength="28.97" lengthAdjust="spacingAndGlyphs" fill="#111" stroke="#111" stroke-width="0.9">99</text>
<text x="281.28" y="1395.00" font-family="Liberation Sans" font-weight="normal" font-size="28" textLength="28.97" lengthAdjust="spacingAndGlyphs" fill="#111" stroke="#111" stroke-width="0.9">45</text>
<rect x="293.8" y="1352.5" width="3.4" height="15.5" fill="#111"/>
<text x="353.36" y="1344.00" font-family="Liberation Sans" font-weight="normal" font-size="28" textLength="41.52" lengthAdjust="spacingAndGlyphs" fill="#111" stroke="#111" stroke-width="0.9">110</text>
<text x="360.10" y="1395.00" font-family="Liberation Sans" font-weight="normal" font-size="28" textLength="28.97" lengthAdjust="spacingAndGlyphs" fill="#111" stroke="#111" stroke-width="0.9">50</text>
<rect x="372.9" y="1352.5" width="3.4" height="15.5" fill="#111"/>
<text x="431.59" y="1344.00" font-family="Liberation Sans" font-weight="normal" font-size="28" textLength="43.45" lengthAdjust="spacingAndGlyphs" fill="#111" stroke="#111" stroke-width="0.9">121</text>
<text x="439.21" y="1395.00" font-family="Liberation Sans" font-weight="normal" font-size="28" textLength="28.97" lengthAdjust="spacingAndGlyphs" fill="#111" stroke="#111" stroke-width="0.9">55</text>
<rect x="452.0" y="1352.5" width="3.4" height="15.5" fill="#111"/>
<text x="510.70" y="1344.00" font-family="Liberation Sans" font-weight="normal" font-size="28" textLength="43.45" lengthAdjust="spacingAndGlyphs" fill="#111" stroke="#111" stroke-width="0.9">132</text>
<text x="518.13" y="1395.00" font-family="Liberation Sans" font-weight="normal" font-size="28" textLength="28.97" lengthAdjust="spacingAndGlyphs" fill="#111" stroke="#111" stroke-width="0.9">60</text>
<rect x="531.0" y="1352.5" width="3.4" height="15.5" fill="#111"/>
<text x="589.69" y="1344.00" font-family="Liberation Sans" font-weight="normal" font-size="28" textLength="43.45" lengthAdjust="spacingAndGlyphs" fill="#111" stroke="#111" stroke-width="0.9">143</text>
<text x="597.24" y="1395.00" font-family="Liberation Sans" font-weight="normal" font-size="28" textLength="28.97" lengthAdjust="spacingAndGlyphs" fill="#111" stroke="#111" stroke-width="0.9">65</text>
<rect x="610.1" y="1352.5" width="3.4" height="15.5" fill="#111"/>
<text x="668.57" y="1344.00" font-family="Liberation Sans" font-weight="normal" font-size="28" textLength="43.45" lengthAdjust="spacingAndGlyphs" fill="#111" stroke="#111" stroke-width="0.9">154</text>
<text x="676.29" y="1395.00" font-family="Liberation Sans" font-weight="normal" font-size="28" textLength="28.97" lengthAdjust="spacingAndGlyphs" fill="#111" stroke="#111" stroke-width="0.9">70</text>
<rect x="689.2" y="1352.5" width="3.4" height="15.5" fill="#111"/>
<text x="747.81" y="1344.00" font-family="Liberation Sans" font-weight="normal" font-size="28" textLength="43.45" lengthAdjust="spacingAndGlyphs" fill="#111" stroke="#111" stroke-width="0.9">165</text>
<text x="755.40" y="1395.00" font-family="Liberation Sans" font-weight="normal" font-size="28" textLength="28.97" lengthAdjust="spacingAndGlyphs" fill="#111" stroke="#111" stroke-width="0.9">75</text>
<rect x="768.3" y="1352.5" width="3.4" height="15.5" fill="#111"/>
<text x="826.93" y="1344.00" font-family="Liberation Sans" font-weight="normal" font-size="28" textLength="43.45" lengthAdjust="spacingAndGlyphs" fill="#111" stroke="#111" stroke-width="0.9">176</text>
<text x="834.54" y="1395.00" font-family="Liberation Sans" font-weight="normal" font-size="28" textLength="28.97" lengthAdjust="spacingAndGlyphs" fill="#111" stroke="#111" stroke-width="0.9">80</text>
<rect x="847.4" y="1352.5" width="3.4" height="15.5" fill="#111"/>
<text x="906.10" y="1344.00" font-family="Liberation Sans" font-weight="normal" font-size="28" textLength="43.45" lengthAdjust="spacingAndGlyphs" fill="#111" stroke="#111" stroke-width="0.9">187</text>
<text x="913.66" y="1395.00" font-family="Liberation Sans" font-weight="normal" font-size="28" textLength="28.97" lengthAdjust="spacingAndGlyphs" fill="#111" stroke="#111" stroke-width="0.9">85</text>
<rect x="926.4" y="1352.5" width="3.4" height="15.5" fill="#111"/>
<text x="985.09" y="1344.00" font-family="Liberation Sans" font-weight="normal" font-size="28" textLength="43.45" lengthAdjust="spacingAndGlyphs" fill="#111" stroke="#111" stroke-width="0.9">198</text>
<text x="992.64" y="1395.00" font-family="Liberation Sans" font-weight="normal" font-size="28" textLength="28.97" lengthAdjust="spacingAndGlyphs" fill="#111" stroke="#111" stroke-width="0.9">90</text>
<rect x="1005.5" y="1352.5" width="3.4" height="15.5" fill="#111"/>
<text x="1064.52" y="1344.00" font-family="Liberation Sans" font-weight="normal" font-size="28" textLength="43.45" lengthAdjust="spacingAndGlyphs" fill="#111" stroke="#111" stroke-width="0.9">209</text>
<text x="1071.75" y="1395.00" font-family="Liberation Sans" font-weight="normal" font-size="28" textLength="28.97" lengthAdjust="spacingAndGlyphs" fill="#111" stroke="#111" stroke-width="0.9">95</text>
<rect x="1084.6" y="1352.5" width="3.4" height="15.5" fill="#111"/>
<text x="1143.51" y="1344.00" font-family="Liberation Sans" font-weight="normal" font-size="28" textLength="43.45" lengthAdjust="spacingAndGlyphs" fill="#111" stroke="#111" stroke-width="0.9">220</text>
<text x="1143.18" y="1395.00" font-family="Liberation Sans" font-weight="normal" font-size="28" textLength="43.45" lengthAdjust="spacingAndGlyphs" fill="#111" stroke="#111" stroke-width="0.9">100</text>
<rect x="1163.7" y="1352.5" width="3.4" height="15.5" fill="#111"/>
<text x="1222.72" y="1344.00" font-family="Liberation Sans" font-weight="normal" font-size="28" textLength="43.45" lengthAdjust="spacingAndGlyphs" fill="#111" stroke="#111" stroke-width="0.9">231</text>
<text x="1222.29" y="1395.00" font-family="Liberation Sans" font-weight="normal" font-size="28" textLength="43.45" lengthAdjust="spacingAndGlyphs" fill="#111" stroke="#111" stroke-width="0.9">105</text>
<rect x="1242.8" y="1352.5" width="3.4" height="15.5" fill="#111"/>
<text x="1301.83" y="1344.00" font-family="Liberation Sans" font-weight="normal" font-size="28" textLength="43.45" lengthAdjust="spacingAndGlyphs" fill="#111" stroke="#111" stroke-width="0.9">242</text>
<text x="1302.32" y="1395.00" font-family="Liberation Sans" font-weight="normal" font-size="28" textLength="41.52" lengthAdjust="spacingAndGlyphs" fill="#111" stroke="#111" stroke-width="0.9">110</text>
<rect x="1321.8" y="1352.5" width="3.4" height="15.5" fill="#111"/>
</svg>
</body></html>
